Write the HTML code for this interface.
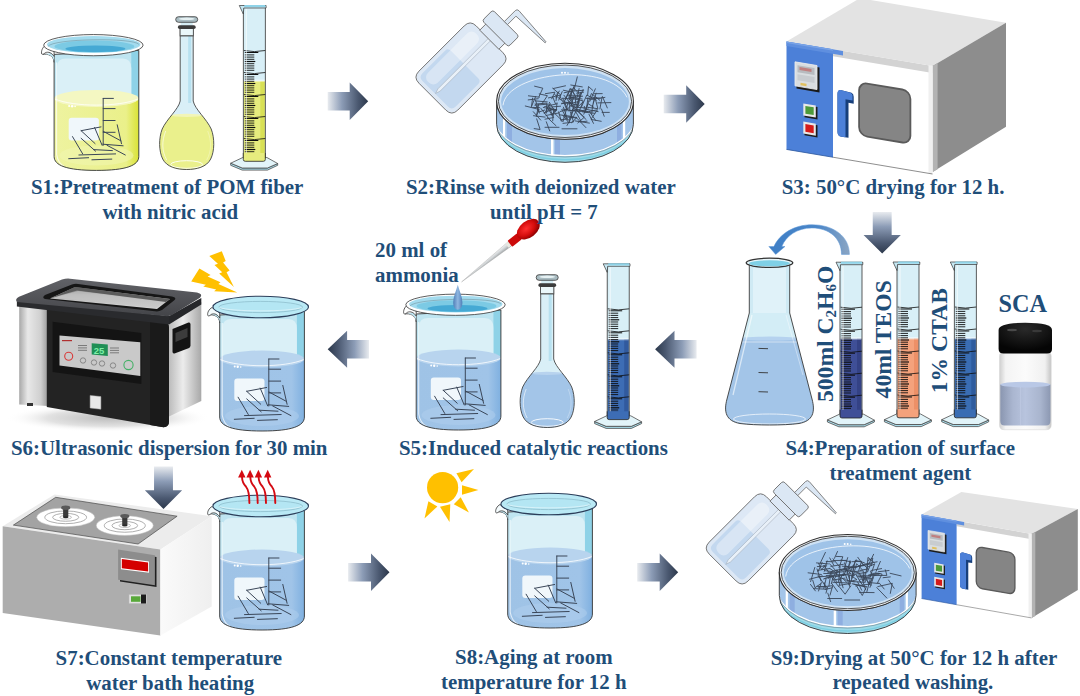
<!DOCTYPE html>
<html><head><meta charset="utf-8"><style>
html,body{margin:0;padding:0;background:#fff;}
#c{position:relative;width:1080px;height:696px;overflow:hidden;background:#fff;font-family:"Liberation Serif",serif;}
</style></head><body><div id="c"><svg width="1080" height="696" viewBox="0 0 1080 696" style="position:absolute;left:0;top:0">
<defs>
 <linearGradient id="arrR" x1="0" y1="0" x2="1" y2="0">
  <stop offset="0" stop-color="#e8ebef"/><stop offset="0.35" stop-color="#8c9cb6"/><stop offset="0.75" stop-color="#4a5870"/><stop offset="1" stop-color="#2c384b"/>
 </linearGradient>
 <linearGradient id="arrL" x1="1" y1="0" x2="0" y2="0">
  <stop offset="0" stop-color="#e8ebef"/><stop offset="0.35" stop-color="#8c9cb6"/><stop offset="0.75" stop-color="#4a5870"/><stop offset="1" stop-color="#2c384b"/>
 </linearGradient>
 <linearGradient id="arrD" x1="0" y1="0" x2="0" y2="1">
  <stop offset="0" stop-color="#e8ebef"/><stop offset="0.35" stop-color="#8c9cb6"/><stop offset="0.75" stop-color="#4a5870"/><stop offset="1" stop-color="#2c384b"/>
 </linearGradient>
 <linearGradient id="glassH" x1="0" y1="0" x2="1" y2="0">
  <stop offset="0" stop-color="#b9e2ef"/><stop offset="0.1" stop-color="#d9f0f7"/><stop offset="0.85" stop-color="#d3eef6"/><stop offset="1" stop-color="#8fd0e6"/>
 </linearGradient>
 <linearGradient id="liqBlue" x1="0" y1="0" x2="1" y2="0">
  <stop offset="0" stop-color="#9fc3e6"/><stop offset="0.85" stop-color="#a0c4e8"/><stop offset="1" stop-color="#7fb0e0"/>
 </linearGradient>
 <linearGradient id="liqYel" x1="0" y1="0" x2="1" y2="0">
  <stop offset="0" stop-color="#eef3a0"/><stop offset="0.85" stop-color="#eaf08a"/><stop offset="1" stop-color="#d9e234"/>
 </linearGradient>
 <radialGradient id="rimIn" cx="0.5" cy="0.6" r="0.6">
  <stop offset="0" stop-color="#3fa7d3"/><stop offset="0.5" stop-color="#74c7e2"/><stop offset="1" stop-color="#a9dff0"/>
 </radialGradient>
</defs>
<path d="M327.7,92.05 L349.7,92.05 L349.7,82.55 L368.2,101.3 L349.7,120.05 L349.7,110.55 L327.7,110.55 Z" fill="url(#arrR)"/><path d="M663.7,94.65 L686.2,94.65 L686.2,85.15 L704.7,103.9 L686.2,122.65 L686.2,113.15 L663.7,113.15 Z" fill="url(#arrR)"/><path d="M872.75,212.1 L872.75,234.9 L863.5500000000001,234.9 L882.2,253.6 L900.85,234.9 L891.6500000000001,234.9 L891.6500000000001,212.1 Z" fill="url(#arrD)"/><path d="M696.6,340.0 L674.5,340.0 L674.5,330.8 L655.1,349.3 L674.5,367.8 L674.5,358.6 L696.6,358.6 Z" fill="url(#arrL)"/><path d="M369.0,340.0 L347.09999999999997,340.0 L347.09999999999997,330.8 L327.7,349.3 L347.09999999999997,367.8 L347.09999999999997,358.6 L369.0,358.6 Z" fill="url(#arrL)"/><path d="M154.05,466.6 L154.05,490.20000000000005 L144.85,490.20000000000005 L163.5,508.90000000000003 L182.15,490.20000000000005 L172.95,490.20000000000005 L172.95,466.6 Z" fill="url(#arrD)"/><path d="M348.1,562.95 L371.0,562.95 L371.0,553.45 L389.5,572.2 L371.0,590.95 L371.0,581.45 L348.1,581.45 Z" fill="url(#arrR)"/><path d="M637.2,562.95 L659.7,562.95 L659.7,553.45 L678.2,572.2 L659.7,590.95 L659.7,581.45 L637.2,581.45 Z" fill="url(#arrR)"/><g transform="translate(41.4,34.4) scale(1.0)"><path d="M12.7,20 L12.7,122 C12.7,131 25.050000000000004,136 55.050000000000004,136 C85.05000000000001,136 97.4,131 97.4,122 L97.4,16 Z" fill="#bfe5f1"/><rect x="89.9" y="16" width="7.5" height="50" fill="#8ed2e7"/><path d="M15.7,64 L15.7,32 Q15.7,24 24.7,24 L81.4,24 Q89.9,24 89.9,34 L89.9,64 Z" fill="#daf0f7"/><path d="M12.7,64 L12.7,122 C12.7,131 25.050000000000004,136 55.050000000000004,136 C85.05000000000001,136 97.4,131 97.4,122 L97.4,64 Z" fill="url(#liqYel)"/><ellipse cx="55.050000000000004" cy="64" rx="42.35" ry="8.5" fill="#f4f7c2"/><path d="M13.2,64.5 C32.7,72.8 77.4,72.8 96.9,64.5" stroke="#ffffff" stroke-width="0.9" fill="none" opacity="0.85"/><ellipse cx="55.050000000000004" cy="121" rx="37" ry="10" fill="#f1f5b0" opacity="0.55"/><circle cx="27.7" cy="71.5" r="1" fill="#fff"/><circle cx="30.7" cy="71.8" r="1.2" fill="#fff"/><circle cx="33.7" cy="72" r="0.8" fill="#fff"/><rect x="27.3" y="83.4" width="30.2" height="22.6" rx="3" fill="#f0f7fb"/><g stroke="#3a4658" stroke-width="1" stroke-linecap="round"><line x1="61.8" y1="64" x2="61.8" y2="110.9"/><line x1="61.8" y1="64" x2="72" y2="64"/><line x1="61.8" y1="74.2" x2="73.7" y2="74.2"/><line x1="61.8" y1="86.1" x2="73.7" y2="86.1"/><line x1="61.8" y1="97.9" x2="73.7" y2="97.9"/><line x1="39.7" y1="96.3" x2="59.6" y2="92.5"/><line x1="39.7" y1="96.3" x2="53.7" y2="109.2"/><line x1="53.2" y1="93.1" x2="60.7" y2="110.9"/><line x1="31.1" y1="102.2" x2="41.3" y2="119.5"/><line x1="39.7" y1="103.9" x2="54.2" y2="116.8"/><line x1="52.1" y1="115.2" x2="71" y2="116.2"/><line x1="61.8" y1="96.9" x2="79.6" y2="106.5"/><line x1="75.8" y1="90.4" x2="80.1" y2="109.3"/><line x1="61.3" y1="109.8" x2="81.7" y2="111.4"/><line x1="65.6" y1="110.9" x2="83.9" y2="120.6"/><line x1="37.5" y1="120.6" x2="74.2" y2="119.5"/><line x1="27.3" y1="124.3" x2="47.2" y2="123.3"/><line x1="50.5" y1="125.4" x2="70.4" y2="124.7"/></g><path d="M15.2,28 L15.2,120 Q16.7,129 22.7,132" stroke="#ffffff" stroke-width="1.1" fill="none" opacity="0.7"/><path d="M12.7,20 L12.7,122 C12.7,131 25.050000000000004,136 55.050000000000004,136 C85.05000000000001,136 97.4,131 97.4,122 L97.4,16 Z" fill="none" stroke="#3d3d3d" stroke-width="0.95"/><path d="M1.5,20 C6,19 12.7,21 12.7,28" fill="none" stroke="#3d3d3d" stroke-width="0.95"/><path d="M1.5,20 C6,19 12.7,21 12.7,28 L12.7,18 Z" fill="#bfe5f1"/><path d="M4,11 C1,13 -0.5,17 0.3,19.5 C1,20.5 2.5,19.5 4,18.3 C7,17 10.5,18.5 12.7,22 L12.7,17 Z" fill="#ffffff" stroke="#3d3d3d" stroke-width="0.85" stroke-linejoin="round"/><ellipse cx="52" cy="10.75" rx="49.7" ry="10.6" fill="#ffffff" stroke="#333" stroke-width="0.8"/><ellipse cx="52.3" cy="10.1" rx="46.8" ry="8.4" fill="#a3dbee"/><ellipse cx="53" cy="12" rx="40" ry="5.8" fill="#7ccae4"/><ellipse cx="54" cy="14.4" rx="30" ry="3.3" fill="#45a9d4"/><path d="M6.5,12 C12,4 92,3 97.5,10" fill="none" stroke="#333" stroke-width="0.5" opacity="0.5"/></g><g transform="translate(186.7,17)"><path d="M-6.5,11 L-6.5,84 C-8,92 -20,102 -24.5,112 C-28,121 -28,134 -24,142 C-20,150 -10,152.5 0,152.5 C10,152.5 20,150 24,142 C28,134 28,121 24.5,112 C20,102 8,92 6.5,84 L6.5,11 Z" fill="#d9eff7"/><clipPath id="fc186"><path d="M-6.5,11 L-6.5,84 C-8,92 -20,102 -24.5,112 C-28,121 -28,134 -24,142 C-20,150 -10,152.5 0,152.5 C10,152.5 20,150 24,142 C28,134 28,121 24.5,112 C20,102 8,92 6.5,84 L6.5,11 Z"/></clipPath><g clip-path="url(#fc186)"><rect x="-30" y="98" width="60" height="60" fill="#eaf08c"/><ellipse cx="0" cy="98.3" rx="15.5" ry="1.6" fill="#f2f5b8"/><ellipse cx="0" cy="147.5" rx="16" ry="3.8" fill="none" stroke="#ffffff" stroke-width="1" opacity="0.85"/><rect x="1.5" y="14" width="3" height="72" fill="#a9dbec" opacity="0.7"/></g><path d="M-21,114 C-25,124 -25,134 -20,143" stroke="#ffffff" stroke-width="1" fill="none" opacity="0.6"/><path d="M21,114 C25,124 25,134 20,143" stroke="#ffffff" stroke-width="0.7" fill="none" opacity="0.4"/><path d="M-6.5,11 L-6.5,84 C-8,92 -20,102 -24.5,112 C-28,121 -28,134 -24,142 C-20,150 -10,152.5 0,152.5 C10,152.5 20,150 24,142 C28,134 28,121 24.5,112 C20,102 8,92 6.5,84 L6.5,11 Z" fill="none" stroke="#444" stroke-width="0.9"/><rect x="-6.6" y="11" width="13.2" height="8" fill="#eaf7fa" stroke="#444" stroke-width="0.8"/><line x1="-6.6" y1="18.5" x2="6.6" y2="18.5" stroke="#555" stroke-width="0.7"/><rect x="-6" y="4.5" width="12" height="4.5" fill="#d5edf4"/><rect x="-8.8" y="8.2" width="17.8" height="3.8" rx="1.8" fill="#3c3c3c"/><rect x="-11" y="-0.3" width="22" height="5.6" rx="2.8" fill="#a9bcc2" stroke="#3a3a3a" stroke-width="0.8"/><ellipse cx="0" cy="1.8" rx="8" ry="1.3" fill="#e6f1f3"/></g><g transform="translate(243.3,5)"><rect x="0" y="1" width="22" height="154" fill="#d8eff7"/><rect x="0.5" y="76" width="21" height="79" fill="#e6ec7e"/><rect x="17" y="76" width="4.5" height="79" fill="#cfd83a" opacity="0.6"/><rect x="0.5" y="74.5" width="21" height="2.5" fill="#ffffff" opacity="0.45"/><g stroke="#0e0e0e" stroke-width="0.9"><path d="M0.5,45.50 Q11.0,47.70 22,45.50" fill="none" stroke-width="0.8"/><line x1="1.5" y1="47.50" x2="15" y2="47.50" stroke-width="1"/><line x1="1.5" y1="49.90" x2="11" y2="49.90"/><line x1="1.5" y1="52.10" x2="11" y2="52.10"/><line x1="1.5" y1="54.30" x2="11" y2="54.30"/><line x1="1.5" y1="56.50" x2="12" y2="56.50" stroke-width="1.2"/><line x1="1.5" y1="58.70" x2="11" y2="58.70"/><line x1="1.5" y1="60.90" x2="11" y2="60.90"/><line x1="1.5" y1="63.10" x2="11" y2="63.10"/><line x1="1.5" y1="65.30" x2="11" y2="65.30"/><path d="M0.5,67.50 Q11.0,69.70 22,67.50" fill="none" stroke-width="0.8"/><line x1="1.5" y1="69.50" x2="15" y2="69.50" stroke-width="1"/><line x1="1.5" y1="71.90" x2="11" y2="71.90"/><line x1="1.5" y1="74.10" x2="11" y2="74.10"/><line x1="1.5" y1="76.30" x2="11" y2="76.30"/><line x1="1.5" y1="78.50" x2="12" y2="78.50" stroke-width="1.2"/><line x1="1.5" y1="80.70" x2="11" y2="80.70"/><line x1="1.5" y1="82.90" x2="11" y2="82.90"/><line x1="1.5" y1="85.10" x2="11" y2="85.10"/><line x1="1.5" y1="87.30" x2="11" y2="87.30"/><path d="M0.5,89.50 Q11.0,91.70 22,89.50" fill="none" stroke-width="0.8"/><line x1="1.5" y1="91.50" x2="15" y2="91.50" stroke-width="1"/><line x1="1.5" y1="93.90" x2="11" y2="93.90"/><line x1="1.5" y1="96.10" x2="11" y2="96.10"/><line x1="1.5" y1="98.30" x2="11" y2="98.30"/><line x1="1.5" y1="100.50" x2="12" y2="100.50" stroke-width="1.2"/><line x1="1.5" y1="102.70" x2="11" y2="102.70"/><line x1="1.5" y1="104.90" x2="11" y2="104.90"/><line x1="1.5" y1="107.10" x2="11" y2="107.10"/><line x1="1.5" y1="109.30" x2="11" y2="109.30"/><path d="M0.5,111.50 Q11.0,113.70 22,111.50" fill="none" stroke-width="0.8"/><line x1="1.5" y1="113.50" x2="15" y2="113.50" stroke-width="1"/><line x1="1.5" y1="115.90" x2="11" y2="115.90"/><line x1="1.5" y1="118.10" x2="11" y2="118.10"/><line x1="1.5" y1="120.30" x2="11" y2="120.30"/><line x1="1.5" y1="122.50" x2="12" y2="122.50" stroke-width="1.2"/><line x1="1.5" y1="124.70" x2="11" y2="124.70"/><line x1="1.5" y1="126.90" x2="11" y2="126.90"/><line x1="1.5" y1="129.10" x2="11" y2="129.10"/><line x1="1.5" y1="131.30" x2="11" y2="131.30"/><path d="M0.5,133.50 Q11.0,135.70 22,133.50" fill="none" stroke-width="0.8"/><line x1="1.5" y1="135.50" x2="15" y2="135.50" stroke-width="1"/><line x1="1.5" y1="137.90" x2="11" y2="137.90"/><line x1="1.5" y1="140.10" x2="11" y2="140.10"/><line x1="1.5" y1="142.30" x2="11" y2="142.30"/><line x1="1.5" y1="144.50" x2="12" y2="144.50" stroke-width="1.2"/><line x1="1.5" y1="146.70" x2="11" y2="146.70"/><line x1="1.5" y1="148.90" x2="11" y2="148.90"/><line x1="1.5" y1="151.10" x2="11" y2="151.10"/><line x1="1.5" y1="153.30" x2="11" y2="153.30"/></g><line x1="3" y1="4" x2="3" y2="152" stroke="#ffffff" stroke-width="1" opacity="0.7"/><rect x="0" y="1" width="22" height="154" fill="none" stroke="#333" stroke-width="0.8"/><path d="M-4,0.5 L22.8,0.5 L22.8,3 L0.5,3 L0,9 Z" fill="#c6e8f3" stroke="#333" stroke-width="0.7"/><rect x="1" y="0" width="21" height="2" fill="#8fd3e8"/><path d="M-12.6,158.2 L-12.6,160.3 L-1.1,165.1 L24.2,165.1 L34.4,160.3 L34.4,158.5 L24.2,163 L-1.1,163 Z" fill="#a9dcea" stroke="#444" stroke-width="0.75" stroke-linejoin="round"/><path d="M-12.6,158.2 L-0.5,152.5 L23.6,152.5 L34.4,158.5 L24.2,163 L-1.1,163 Z" fill="#e2f4f9" stroke="#444" stroke-width="0.75" stroke-linejoin="round"/><path d="M0,148 L0,154.5 Q0,156.3 2,156.3 L20,156.3 Q22,156.3 22,154.5 L22,148" fill="#e6ec7e" stroke="#222" stroke-width="0.8"/></g><g transform="translate(461,68) rotate(45)"><path d="M-27.5,-32 Q-27.5,-40.5 -19,-40.5 L19,-40.5 Q27.5,-40.5 27.5,-32 L27.5,32 Q27.5,40.5 19,40.5 L-19,40.5 Q-27.5,40.5 -27.5,32 Z" fill="#dde8f5"/><path d="M-23.5,-1 Q-23.5,-5 -19,-5 L19,-5 Q23.5,-5 23.5,-1 L23.5,31 Q23.5,36.5 18,36.5 L-18,36.5 Q-23.5,36.5 -23.5,31 Z" fill="#c3d8ef"/><rect x="-20" y="-35" width="14" height="68" rx="6" fill="#ffffff" opacity="0.35"/><path d="M-27.5,-32 Q-27.5,-40.5 -19,-40.5 L19,-40.5 Q27.5,-40.5 27.5,-32 L27.5,32 Q27.5,40.5 19,40.5 L-19,40.5 Q-27.5,40.5 -27.5,32 Z" fill="none" stroke="#6f6f6f" stroke-width="0.9"/><path d="M-1.6,-48 L1.6,-48 L1.6,31 L0,36 L-1.6,31 Z" fill="#e8f0f8" stroke="#9aa6b2" stroke-width="0.5"/><rect x="-13.5" y="-49" width="27" height="9" fill="#dde8f5" stroke="#6f6f6f" stroke-width="0.9"/><rect x="-18.5" y="-63.5" width="37" height="15" rx="2.5" fill="#dbe7f4" stroke="#6f6f6f" stroke-width="0.9"/><path d="M-2.2,-63.5 L-2.2,-79 Q-2.2,-81.5 0.5,-81.5 L41.5,-78.6 L41.7,-77.3 L2.2,-75.5 L2.2,-63.5 Z" fill="#dbe7f4" stroke="#6f6f6f" stroke-width="0.8" stroke-linejoin="round"/></g><g><clipPath id="pc565"><path d="M496.6,101.3 A68.4,38 0 0 0 633.4,101.3 L633.4,124.3 A68.4,38 0 0 1 496.6,124.3 Z"/></clipPath><path d="M496.6,101.3 A68.4,38 0 0 0 633.4,101.3 L633.4,124.3 A68.4,38 0 0 1 496.6,124.3 Z" fill="#a3c5e9"/><g clip-path="url(#pc565)"><rect x="503" y="101.3" width="2.2" height="63" fill="#ffffff"/><rect x="507" y="101.3" width="5" height="63" fill="#8eaee0"/><rect x="551" y="101.3" width="2.5" height="63" fill="#ffffff"/><rect x="555" y="101.3" width="5" height="63" fill="#8eaee0"/><rect x="617" y="101.3" width="4.5" height="63" fill="#8eaee0"/><rect x="623" y="101.3" width="2.2" height="63" fill="#ffffff"/><path d="M494.6,118.3 A70.4,38 0 0 0 635.4,118.3 L635.4,179.3 L494.6,179.3 Z" fill="#9fdbe9"/><path d="M494.6,117.6 A70.4,38 0 0 0 635.4,117.6" fill="none" stroke="#ffffff" stroke-width="1.3"/><path d="M494.6,118.9 A70.4,38 0 0 0 635.4,118.9" fill="none" stroke="#6a7f8a" stroke-width="0.6"/><path d="M494.6,121.8 A70.4,38 0 0 0 635.4,121.8" fill="none" stroke="#7dcfe2" stroke-width="1.5"/></g><path d="M496.6,101.3 A68.4,38 0 0 0 633.4,101.3 L633.4,124.3 A68.4,38 0 0 1 496.6,124.3 Z" fill="none" stroke="#333" stroke-width="0.9"/><ellipse cx="565" cy="101.3" rx="68.4" ry="38" fill="#f5f8fb" stroke="#2e2e2e" stroke-width="1.1"/><ellipse cx="565" cy="101.3" rx="66.60000000000001" ry="36.2" fill="#cfe2f4" stroke="#444" stroke-width="0.9"/><ellipse cx="565" cy="101.6" rx="63.900000000000006" ry="33.5" fill="#9fc3e8"/><path d="M503,105.3 C507,71.3 610,61.3 627,97.3" fill="none" stroke="#ffffff" stroke-width="0.9" opacity="0.85"/><circle cx="562" cy="72.8" r="1" fill="#fff"/><circle cx="565" cy="72.8" r="1" fill="#fff"/><circle cx="568" cy="73.0" r="0.8" fill="#fff"/><g stroke="#3a4658" stroke-width="0.9" stroke-linecap="round" stroke-linejoin="round" fill="none"><polyline points="565.1,116.8 577.1,117.4 571.4,122.8"/><polyline points="549.4,102.3 555.3,112.0"/><polyline points="573.3,98.7 583.2,100.9 579.3,110.9"/><polyline points="599.9,108.9 602.0,97.4"/><polyline points="533.5,115.7 545.1,117.1"/><polyline points="577.0,111.4 586.0,111.4"/><polyline points="570.8,85.0 582.3,86.9"/><polyline points="549.6,108.3 556.7,109.8 551.7,114.7"/><polyline points="535.3,100.9 547.3,101.9"/><polyline points="561.8,109.4 566.9,119.0 561.0,119.8"/><polyline points="552.7,120.8 553.8,108.9 544.0,112.8"/><polyline points="560.1,111.5 567.7,109.6"/><polyline points="558.6,111.9 561.3,121.2"/><polyline points="591.2,119.5 601.2,121.3"/><polyline points="558.7,100.1 562.2,91.6"/><polyline points="547.3,107.3 560.6,106.2"/><polyline points="554.5,113.2 563.1,121.7 564.6,114.7"/><polyline points="553.4,88.5 565.5,85.8"/><polyline points="562.8,115.3 569.1,123.1 570.3,116.6"/><polyline points="565.4,99.7 570.9,88.5 574.4,94.2"/><polyline points="547.4,117.6 556.0,125.7"/><polyline points="555.9,97.9 559.2,91.1"/><polyline points="568.7,117.0 575.9,118.0"/><polyline points="546.3,121.8 549.7,130.9"/><polyline points="589.3,111.4 595.7,120.5"/><polyline points="532.6,107.4 539.8,107.7"/><polyline points="570.8,115.1 574.3,104.6"/><polyline points="597.8,102.9 610.9,102.6"/><polyline points="589.8,101.4 595.4,88.8"/><polyline points="575.0,109.4 586.0,111.1 584.3,106.3"/><polyline points="562.6,98.2 573.8,99.1"/><polyline points="591.1,99.2 604.9,97.4"/><polyline points="567.1,95.2 580.7,95.4 574.0,88.2"/><polyline points="564.2,103.2 566.8,110.1 572.0,103.9"/><polyline points="581.4,107.1 586.8,95.0 596.3,100.2"/><polyline points="568.7,100.9 574.7,108.3"/><polyline points="545.4,93.7 554.9,92.2 551.7,98.8"/><polyline points="575.1,107.3 588.3,108.0"/><polyline points="572.7,91.0 583.7,90.3"/><polyline points="533.3,111.7 540.7,120.1"/><polyline points="583.8,108.9 598.1,111.6"/><polyline points="594.2,93.7 602.2,93.6"/><polyline points="571.6,90.0 575.6,96.7"/><polyline points="575.2,104.5 575.9,96.8 570.8,97.2"/><polyline points="569.1,100.0 573.7,87.1"/><polyline points="528.4,95.8 539.4,97.2"/><polyline points="591.7,114.6 592.6,105.1"/><polyline points="570.7,97.7 582.6,96.2"/><polyline points="546.5,110.2 556.8,109.5 551.8,115.0"/><polyline points="562.8,98.4 567.8,109.7"/><polyline points="531.6,105.8 532.6,98.1"/><polyline points="586.0,98.3 594.4,99.2 592.4,107.0"/><polyline points="602.4,96.5 607.3,107.9"/><polyline points="538.9,96.8 542.8,88.2 534.6,86.2"/><polyline points="564.8,115.8 567.7,103.5"/><polyline points="571.0,117.0 573.3,110.1"/><polyline points="587.6,95.2 588.5,86.5 592.8,90.4"/><polyline points="539.2,93.9 547.4,95.7 542.2,103.5"/><polyline points="571.3,106.6 573.2,96.9"/><polyline points="561.8,103.3 572.7,102.9 569.7,95.2"/><polyline points="575.9,109.8 586.1,119.5"/><polyline points="536.4,116.5 538.7,104.3"/><polyline points="569.0,96.9 574.4,85.8"/><polyline points="582.4,111.9 594.8,113.3"/><polyline points="576.1,117.4 585.9,127.6"/><polyline points="575.5,111.3 581.1,121.2"/><polyline points="544.6,106.6 557.1,103.8"/><polyline points="528.2,99.9 538.2,98.7"/><polyline points="588.2,107.4 597.9,108.7 595.4,99.2"/><polyline points="586.4,109.2 588.0,97.6"/><polyline points="589.0,114.3 593.5,123.4"/><polyline points="583.8,114.2 588.1,103.7 593.6,107.2"/><polyline points="564.1,101.9 570.1,88.6"/><polyline points="535.5,100.0 539.0,112.0 544.8,110.0"/><polyline points="556.0,100.7 557.4,92.5"/><polyline points="575.1,120.9 589.4,123.1"/><polyline points="576.7,109.6 584.3,117.2 577.8,123.0"/><polyline points="537.2,103.9 546.8,103.1 546.6,113.1"/><polyline points="563.9,101.7 578.4,105.4 572.2,109.7"/><polyline points="564.1,92.8 571.5,91.1 570.6,98.9"/><polyline points="602.1,112.4 609.3,112.4"/><polyline points="554.5,94.3 561.3,100.3"/><polyline points="543.3,107.4 556.3,110.5 557.0,102.8"/><polyline points="568.1,110.8 576.4,110.4 573.0,117.2"/><polyline points="579.8,121.9 587.1,121.2"/><polyline points="563.4,107.1 567.9,120.4 572.4,116.4"/><polyline points="548.4,97.9 560.9,95.0 552.6,88.2"/><polyline points="534.8,105.2 549.7,104.0 544.6,113.5"/><polyline points="561.4,103.8 569.6,102.1 569.8,110.2"/><polyline points="563.9,95.2 571.5,104.9"/><polyline points="563.3,90.2 571.6,92.0"/><polyline points="535.3,103.7 539.4,113.1"/><polyline points="577.3,96.9 579.1,88.6"/><polyline points="540.9,108.4 549.3,119.1"/><polyline points="576.0,105.9 579.0,98.8"/><polyline points="552.7,96.9 555.5,103.8"/><polyline points="586.5,107.6 591.4,93.5 599.7,100.2"/><polyline points="585.6,112.3 597.5,109.7 591.5,118.5"/><polyline points="576.8,109.6 587.8,111.6"/><polyline points="579.1,99.5 583.1,89.5"/><polyline points="601.5,109.0 604.2,116.3"/><polyline points="562.7,109.1 574.9,111.1 570.3,102.0"/><polyline points="546.0,115.5 559.5,112.8"/><polyline points="568.9,98.1 576.1,108.7 582.9,102.0"/><polyline points="592.7,97.3 600.2,98.4"/><polyline points="563.0,123.4 573.5,122.0 570.4,111.9"/><polyline points="593.2,103.1 596.1,93.2"/><polyline points="525.3,106.0 539.2,109.5 536.9,114.6"/><polyline points="559.8,96.1 563.3,102.5"/><polyline points="559.2,114.8 572.1,116.4 567.0,125.5"/><polyline points="549.0,106.6 552.5,115.2"/><polyline points="573.8,91.0 577.3,76.9"/><polyline points="578.6,104.2 580.0,97.1"/><polyline points="536.7,118.9 540.1,129.5 534.2,128.6"/><polyline points="577.1,106.4 580.9,92.1"/><polyline points="568.8,104.0 579.0,101.4 576.4,110.9"/><polyline points="546.7,106.7 553.6,117.5 545.0,119.2"/><polyline points="569.0,97.3 582.2,99.0"/><polyline points="576.6,93.2 583.6,92.1"/><polyline points="531.1,107.3 535.7,96.4"/><line x1="545" y1="127.3" x2="559" y2="127.3"/><line x1="562" y1="128.8" x2="577" y2="128.8"/></g></g><g><polygon points="786.5,41.4 859.9,-1.8 1006.0,22.8 932.6,66.0" fill="#e3e3e3"/><polygon points="932.6,66.0 1006.0,22.8 1006.0,126.7 932.6,172.0" fill="#8d8d8d"/><polygon points="932.6,66.0 937.6,63.1 937.6,169.2 932.6,172.0" fill="#b3b3b3"/><g transform="translate(786.5,41.4) skewY(9.56) scale(1.0,1.0)"><rect x="0" y="0" width="146" height="108" fill="#ffffff"/><rect x="-4" y="0" width="4" height="108" fill="#ffffff"/><rect x="46.5" y="0" width="99.5" height="7" fill="#d3d3d3"/><rect x="142" y="0" width="4" height="108" fill="#f0f0f0"/><line x1="46.5" y1="108" x2="146" y2="108" stroke="#777" stroke-width="0.8"/><rect x="0" y="0" width="46.5" height="108" fill="#4c80d8"/><rect x="0" y="0" width="56.5" height="4.5" fill="#5f8fdf"/><rect x="0" y="0" width="46.5" height="1.5" fill="#7aa3e6"/><line x1="0" y1="108" x2="46.5" y2="108" stroke="#2f5aa0" stroke-width="0.8"/><rect x="10" y="20.5" width="23" height="25" fill="#1a1a1a"/><rect x="8.5" y="19" width="22" height="24" fill="#d9dde0" stroke="#eee" stroke-width="0.8"/><rect x="11" y="22" width="17" height="7" fill="#b8bcc0"/><rect x="13" y="23.5" width="12" height="3" fill="#c08080"/><rect x="11" y="31" width="17" height="6" fill="#c8ccd0"/><rect x="14" y="39" width="6" height="2.5" fill="#e0c060"/><rect x="18" y="60.5" width="13" height="12.3" fill="#1c1c1c"/><rect x="16.8" y="59.2" width="12.5" height="12" fill="#e8e8e8"/><rect x="18.9" y="61.300000000000004" width="8.3" height="7.8" fill="#4c9a3a"/><rect x="18" y="78.6" width="13" height="12.3" fill="#1c1c1c"/><rect x="16.8" y="77.3" width="12.5" height="12" fill="#e8e8e8"/><rect x="18.9" y="79.39999999999999" width="8.3" height="7.8" fill="#d41a1a"/><path d="M51,44 Q51,39.5 55,39.5 L65,40.5 Q67.2,41 67.2,44 L67.2,51 L62,51 L62,86 L55,86 Q51,86 51,82 Z" fill="#173f7a"/><path d="M51,43.5 Q51,39.5 55,39.5 L64,40.5 Q66,41 66,43 L66,48 L59,48 L59,86 L55,86 Q51,86 51,82 Z" fill="#4c80d8"/><rect x="72.6" y="28.6" width="51.3" height="53" rx="8" fill="#858585" stroke="#5a5a5a" stroke-width="1.8"/></g></g><g><path d="M749.3,264 L749.3,313 L727,399 C723.5,412 726,421 740,423.5 C755,425.5 784,425.5 799,423.5 C813,421 815.5,412 812,399 L789.7,313 L789.7,264 Z" fill="#cfeaf4"/><clipPath id="erlc"><path d="M749.3,264 L749.3,313 L727,399 C723.5,412 726,421 740,423.5 C755,425.5 784,425.5 799,423.5 C813,421 815.5,412 812,399 L789.7,313 L789.7,264 Z"/></clipPath><g clip-path="url(#erlc)"><rect x="753" y="268" width="33" height="45" fill="#e0f2f9"/><rect x="740" y="313" width="60" height="28" fill="#d3edf6"/><path d="M700,338.6 L840,338.6 L840,430 L700,430 Z" fill="#a3c5e8"/><ellipse cx="769.5" cy="338.6" rx="30" ry="2" fill="#b5d2ef"/><path d="M738,342 L800,342" stroke="#ffffff" stroke-width="0.7" opacity="0.7"/><ellipse cx="769.5" cy="419" rx="36" ry="5" fill="none" stroke="#ffffff" stroke-width="1" opacity="0.7"/><path d="M752,315 L733,395" stroke="#ffffff" stroke-width="1.3" opacity="0.6"/><path d="M786,315 L803,375" stroke="#ffffff" stroke-width="0.8" opacity="0.5"/></g><line x1="758.5" y1="348.4" x2="768" y2="348.7" stroke="#333" stroke-width="0.9"/><line x1="758.5" y1="372.5" x2="768" y2="372.8" stroke="#333" stroke-width="0.9"/><line x1="758.5" y1="391.7" x2="768" y2="392.0" stroke="#333" stroke-width="0.9"/><path d="M749.3,264 L749.3,313 L727,399 C723.5,412 726,421 740,423.5 C755,425.5 784,425.5 799,423.5 C813,421 815.5,412 812,399 L789.7,313 L789.7,264 Z" fill="none" stroke="#3a3a3a" stroke-width="0.9"/><ellipse cx="769.5" cy="262.8" rx="23.3" ry="4.6" fill="#e8f7fb" stroke="#333" stroke-width="1.3"/><ellipse cx="769.5" cy="263.3" rx="20.5" ry="3" fill="#7fd0e6"/></g><defs><linearGradient id="carr" x1="0" y1="0" x2="1" y2="0"><stop offset="0" stop-color="#3f7fc6"/><stop offset="0.6" stop-color="#4a86c8"/><stop offset="1" stop-color="#8aa5c3"/></linearGradient></defs><path d="M841.5,254.4 L849.4,254.4 C849.4,236 833,224.7 811.9,224.7 C795,224.7 780,233 773.9,246.5 L768.8,246.5 L775.7,254.4 L785,246.5 L781.8,246.5 C786,236 797,228 811.9,228 C829,228 841.5,238 841.5,254.4 Z" fill="url(#carr)" stroke="#5d97d6" stroke-width="0.5"/><g transform="translate(840,261.7)"><rect x="0" y="1" width="22" height="154" fill="#d8eff7"/><rect x="0.5" y="77" width="21" height="78" fill="#3f4f97"/><rect x="17" y="77" width="4.5" height="78" fill="#2d3a7a" opacity="0.6"/><rect x="0.5" y="75.5" width="21" height="2.5" fill="#ffffff" opacity="0.45"/><g stroke="#0e0e0e" stroke-width="0.9"><path d="M0.5,45.50 Q11.0,47.70 22,45.50" fill="none" stroke-width="0.8"/><line x1="1.5" y1="47.50" x2="15" y2="47.50" stroke-width="1"/><line x1="1.5" y1="49.90" x2="11" y2="49.90"/><line x1="1.5" y1="52.10" x2="11" y2="52.10"/><line x1="1.5" y1="54.30" x2="11" y2="54.30"/><line x1="1.5" y1="56.50" x2="12" y2="56.50" stroke-width="1.2"/><line x1="1.5" y1="58.70" x2="11" y2="58.70"/><line x1="1.5" y1="60.90" x2="11" y2="60.90"/><line x1="1.5" y1="63.10" x2="11" y2="63.10"/><line x1="1.5" y1="65.30" x2="11" y2="65.30"/><path d="M0.5,67.50 Q11.0,69.70 22,67.50" fill="none" stroke-width="0.8"/><line x1="1.5" y1="69.50" x2="15" y2="69.50" stroke-width="1"/><line x1="1.5" y1="71.90" x2="11" y2="71.90"/><line x1="1.5" y1="74.10" x2="11" y2="74.10"/><line x1="1.5" y1="76.30" x2="11" y2="76.30"/><line x1="1.5" y1="78.50" x2="12" y2="78.50" stroke-width="1.2"/><line x1="1.5" y1="80.70" x2="11" y2="80.70"/><line x1="1.5" y1="82.90" x2="11" y2="82.90"/><line x1="1.5" y1="85.10" x2="11" y2="85.10"/><line x1="1.5" y1="87.30" x2="11" y2="87.30"/><path d="M0.5,89.50 Q11.0,91.70 22,89.50" fill="none" stroke-width="0.8"/><line x1="1.5" y1="91.50" x2="15" y2="91.50" stroke-width="1"/><line x1="1.5" y1="93.90" x2="11" y2="93.90"/><line x1="1.5" y1="96.10" x2="11" y2="96.10"/><line x1="1.5" y1="98.30" x2="11" y2="98.30"/><line x1="1.5" y1="100.50" x2="12" y2="100.50" stroke-width="1.2"/><line x1="1.5" y1="102.70" x2="11" y2="102.70"/><line x1="1.5" y1="104.90" x2="11" y2="104.90"/><line x1="1.5" y1="107.10" x2="11" y2="107.10"/><line x1="1.5" y1="109.30" x2="11" y2="109.30"/><path d="M0.5,111.50 Q11.0,113.70 22,111.50" fill="none" stroke-width="0.8"/><line x1="1.5" y1="113.50" x2="15" y2="113.50" stroke-width="1"/><line x1="1.5" y1="115.90" x2="11" y2="115.90"/><line x1="1.5" y1="118.10" x2="11" y2="118.10"/><line x1="1.5" y1="120.30" x2="11" y2="120.30"/><line x1="1.5" y1="122.50" x2="12" y2="122.50" stroke-width="1.2"/><line x1="1.5" y1="124.70" x2="11" y2="124.70"/><line x1="1.5" y1="126.90" x2="11" y2="126.90"/><line x1="1.5" y1="129.10" x2="11" y2="129.10"/><line x1="1.5" y1="131.30" x2="11" y2="131.30"/><path d="M0.5,133.50 Q11.0,135.70 22,133.50" fill="none" stroke-width="0.8"/><line x1="1.5" y1="135.50" x2="15" y2="135.50" stroke-width="1"/><line x1="1.5" y1="137.90" x2="11" y2="137.90"/><line x1="1.5" y1="140.10" x2="11" y2="140.10"/><line x1="1.5" y1="142.30" x2="11" y2="142.30"/><line x1="1.5" y1="144.50" x2="12" y2="144.50" stroke-width="1.2"/><line x1="1.5" y1="146.70" x2="11" y2="146.70"/><line x1="1.5" y1="148.90" x2="11" y2="148.90"/><line x1="1.5" y1="151.10" x2="11" y2="151.10"/><line x1="1.5" y1="153.30" x2="11" y2="153.30"/></g><line x1="3" y1="4" x2="3" y2="152" stroke="#ffffff" stroke-width="1" opacity="0.7"/><rect x="0" y="1" width="22" height="154" fill="none" stroke="#333" stroke-width="0.8"/><path d="M-4,0.5 L22.8,0.5 L22.8,3 L0.5,3 L0,9 Z" fill="#c6e8f3" stroke="#333" stroke-width="0.7"/><rect x="1" y="0" width="21" height="2" fill="#8fd3e8"/><path d="M-12.6,158.2 L-12.6,160.3 L-1.1,165.1 L24.2,165.1 L34.4,160.3 L34.4,158.5 L24.2,163 L-1.1,163 Z" fill="#a9dcea" stroke="#444" stroke-width="0.75" stroke-linejoin="round"/><path d="M-12.6,158.2 L-0.5,152.5 L23.6,152.5 L34.4,158.5 L24.2,163 L-1.1,163 Z" fill="#e2f4f9" stroke="#444" stroke-width="0.75" stroke-linejoin="round"/><path d="M0,148 L0,154.5 Q0,156.3 2,156.3 L20,156.3 Q22,156.3 22,154.5 L22,148" fill="#3f4f97" stroke="#222" stroke-width="0.8"/></g><g transform="translate(897,261.5)"><rect x="0" y="1" width="22" height="154" fill="#d8eff7"/><rect x="0.5" y="77" width="21" height="78" fill="#f4a27c"/><rect x="17" y="77" width="4.5" height="78" fill="#e8845a" opacity="0.6"/><rect x="0.5" y="75.5" width="21" height="2.5" fill="#ffffff" opacity="0.45"/><g stroke="#0e0e0e" stroke-width="0.9"><path d="M0.5,45.50 Q11.0,47.70 22,45.50" fill="none" stroke-width="0.8"/><line x1="1.5" y1="47.50" x2="15" y2="47.50" stroke-width="1"/><line x1="1.5" y1="49.90" x2="11" y2="49.90"/><line x1="1.5" y1="52.10" x2="11" y2="52.10"/><line x1="1.5" y1="54.30" x2="11" y2="54.30"/><line x1="1.5" y1="56.50" x2="12" y2="56.50" stroke-width="1.2"/><line x1="1.5" y1="58.70" x2="11" y2="58.70"/><line x1="1.5" y1="60.90" x2="11" y2="60.90"/><line x1="1.5" y1="63.10" x2="11" y2="63.10"/><line x1="1.5" y1="65.30" x2="11" y2="65.30"/><path d="M0.5,67.50 Q11.0,69.70 22,67.50" fill="none" stroke-width="0.8"/><line x1="1.5" y1="69.50" x2="15" y2="69.50" stroke-width="1"/><line x1="1.5" y1="71.90" x2="11" y2="71.90"/><line x1="1.5" y1="74.10" x2="11" y2="74.10"/><line x1="1.5" y1="76.30" x2="11" y2="76.30"/><line x1="1.5" y1="78.50" x2="12" y2="78.50" stroke-width="1.2"/><line x1="1.5" y1="80.70" x2="11" y2="80.70"/><line x1="1.5" y1="82.90" x2="11" y2="82.90"/><line x1="1.5" y1="85.10" x2="11" y2="85.10"/><line x1="1.5" y1="87.30" x2="11" y2="87.30"/><path d="M0.5,89.50 Q11.0,91.70 22,89.50" fill="none" stroke-width="0.8"/><line x1="1.5" y1="91.50" x2="15" y2="91.50" stroke-width="1"/><line x1="1.5" y1="93.90" x2="11" y2="93.90"/><line x1="1.5" y1="96.10" x2="11" y2="96.10"/><line x1="1.5" y1="98.30" x2="11" y2="98.30"/><line x1="1.5" y1="100.50" x2="12" y2="100.50" stroke-width="1.2"/><line x1="1.5" y1="102.70" x2="11" y2="102.70"/><line x1="1.5" y1="104.90" x2="11" y2="104.90"/><line x1="1.5" y1="107.10" x2="11" y2="107.10"/><line x1="1.5" y1="109.30" x2="11" y2="109.30"/><path d="M0.5,111.50 Q11.0,113.70 22,111.50" fill="none" stroke-width="0.8"/><line x1="1.5" y1="113.50" x2="15" y2="113.50" stroke-width="1"/><line x1="1.5" y1="115.90" x2="11" y2="115.90"/><line x1="1.5" y1="118.10" x2="11" y2="118.10"/><line x1="1.5" y1="120.30" x2="11" y2="120.30"/><line x1="1.5" y1="122.50" x2="12" y2="122.50" stroke-width="1.2"/><line x1="1.5" y1="124.70" x2="11" y2="124.70"/><line x1="1.5" y1="126.90" x2="11" y2="126.90"/><line x1="1.5" y1="129.10" x2="11" y2="129.10"/><line x1="1.5" y1="131.30" x2="11" y2="131.30"/><path d="M0.5,133.50 Q11.0,135.70 22,133.50" fill="none" stroke-width="0.8"/><line x1="1.5" y1="135.50" x2="15" y2="135.50" stroke-width="1"/><line x1="1.5" y1="137.90" x2="11" y2="137.90"/><line x1="1.5" y1="140.10" x2="11" y2="140.10"/><line x1="1.5" y1="142.30" x2="11" y2="142.30"/><line x1="1.5" y1="144.50" x2="12" y2="144.50" stroke-width="1.2"/><line x1="1.5" y1="146.70" x2="11" y2="146.70"/><line x1="1.5" y1="148.90" x2="11" y2="148.90"/><line x1="1.5" y1="151.10" x2="11" y2="151.10"/><line x1="1.5" y1="153.30" x2="11" y2="153.30"/></g><line x1="3" y1="4" x2="3" y2="152" stroke="#ffffff" stroke-width="1" opacity="0.7"/><rect x="0" y="1" width="22" height="154" fill="none" stroke="#333" stroke-width="0.8"/><path d="M-4,0.5 L22.8,0.5 L22.8,3 L0.5,3 L0,9 Z" fill="#c6e8f3" stroke="#333" stroke-width="0.7"/><rect x="1" y="0" width="21" height="2" fill="#8fd3e8"/><path d="M-12.6,158.2 L-12.6,160.3 L-1.1,165.1 L24.2,165.1 L34.4,160.3 L34.4,158.5 L24.2,163 L-1.1,163 Z" fill="#a9dcea" stroke="#444" stroke-width="0.75" stroke-linejoin="round"/><path d="M-12.6,158.2 L-0.5,152.5 L23.6,152.5 L34.4,158.5 L24.2,163 L-1.1,163 Z" fill="#e2f4f9" stroke="#444" stroke-width="0.75" stroke-linejoin="round"/><path d="M0,148 L0,154.5 Q0,156.3 2,156.3 L20,156.3 Q22,156.3 22,154.5 L22,148" fill="#f4a27c" stroke="#222" stroke-width="0.8"/></g><g transform="translate(954.3,261.5)"><rect x="0" y="1" width="22" height="154" fill="#d8eff7"/><rect x="0.5" y="77" width="21" height="78" fill="#3a6db3"/><rect x="17" y="77" width="4.5" height="78" fill="#28528f" opacity="0.6"/><rect x="0.5" y="75.5" width="21" height="2.5" fill="#ffffff" opacity="0.45"/><g stroke="#0e0e0e" stroke-width="0.9"><path d="M0.5,45.50 Q11.0,47.70 22,45.50" fill="none" stroke-width="0.8"/><line x1="1.5" y1="47.50" x2="15" y2="47.50" stroke-width="1"/><line x1="1.5" y1="49.90" x2="11" y2="49.90"/><line x1="1.5" y1="52.10" x2="11" y2="52.10"/><line x1="1.5" y1="54.30" x2="11" y2="54.30"/><line x1="1.5" y1="56.50" x2="12" y2="56.50" stroke-width="1.2"/><line x1="1.5" y1="58.70" x2="11" y2="58.70"/><line x1="1.5" y1="60.90" x2="11" y2="60.90"/><line x1="1.5" y1="63.10" x2="11" y2="63.10"/><line x1="1.5" y1="65.30" x2="11" y2="65.30"/><path d="M0.5,67.50 Q11.0,69.70 22,67.50" fill="none" stroke-width="0.8"/><line x1="1.5" y1="69.50" x2="15" y2="69.50" stroke-width="1"/><line x1="1.5" y1="71.90" x2="11" y2="71.90"/><line x1="1.5" y1="74.10" x2="11" y2="74.10"/><line x1="1.5" y1="76.30" x2="11" y2="76.30"/><line x1="1.5" y1="78.50" x2="12" y2="78.50" stroke-width="1.2"/><line x1="1.5" y1="80.70" x2="11" y2="80.70"/><line x1="1.5" y1="82.90" x2="11" y2="82.90"/><line x1="1.5" y1="85.10" x2="11" y2="85.10"/><line x1="1.5" y1="87.30" x2="11" y2="87.30"/><path d="M0.5,89.50 Q11.0,91.70 22,89.50" fill="none" stroke-width="0.8"/><line x1="1.5" y1="91.50" x2="15" y2="91.50" stroke-width="1"/><line x1="1.5" y1="93.90" x2="11" y2="93.90"/><line x1="1.5" y1="96.10" x2="11" y2="96.10"/><line x1="1.5" y1="98.30" x2="11" y2="98.30"/><line x1="1.5" y1="100.50" x2="12" y2="100.50" stroke-width="1.2"/><line x1="1.5" y1="102.70" x2="11" y2="102.70"/><line x1="1.5" y1="104.90" x2="11" y2="104.90"/><line x1="1.5" y1="107.10" x2="11" y2="107.10"/><line x1="1.5" y1="109.30" x2="11" y2="109.30"/><path d="M0.5,111.50 Q11.0,113.70 22,111.50" fill="none" stroke-width="0.8"/><line x1="1.5" y1="113.50" x2="15" y2="113.50" stroke-width="1"/><line x1="1.5" y1="115.90" x2="11" y2="115.90"/><line x1="1.5" y1="118.10" x2="11" y2="118.10"/><line x1="1.5" y1="120.30" x2="11" y2="120.30"/><line x1="1.5" y1="122.50" x2="12" y2="122.50" stroke-width="1.2"/><line x1="1.5" y1="124.70" x2="11" y2="124.70"/><line x1="1.5" y1="126.90" x2="11" y2="126.90"/><line x1="1.5" y1="129.10" x2="11" y2="129.10"/><line x1="1.5" y1="131.30" x2="11" y2="131.30"/><path d="M0.5,133.50 Q11.0,135.70 22,133.50" fill="none" stroke-width="0.8"/><line x1="1.5" y1="135.50" x2="15" y2="135.50" stroke-width="1"/><line x1="1.5" y1="137.90" x2="11" y2="137.90"/><line x1="1.5" y1="140.10" x2="11" y2="140.10"/><line x1="1.5" y1="142.30" x2="11" y2="142.30"/><line x1="1.5" y1="144.50" x2="12" y2="144.50" stroke-width="1.2"/><line x1="1.5" y1="146.70" x2="11" y2="146.70"/><line x1="1.5" y1="148.90" x2="11" y2="148.90"/><line x1="1.5" y1="151.10" x2="11" y2="151.10"/><line x1="1.5" y1="153.30" x2="11" y2="153.30"/></g><line x1="3" y1="4" x2="3" y2="152" stroke="#ffffff" stroke-width="1" opacity="0.7"/><rect x="0" y="1" width="22" height="154" fill="none" stroke="#333" stroke-width="0.8"/><path d="M-4,0.5 L22.8,0.5 L22.8,3 L0.5,3 L0,9 Z" fill="#c6e8f3" stroke="#333" stroke-width="0.7"/><rect x="1" y="0" width="21" height="2" fill="#8fd3e8"/><path d="M-12.6,158.2 L-12.6,160.3 L-1.1,165.1 L24.2,165.1 L34.4,160.3 L34.4,158.5 L24.2,163 L-1.1,163 Z" fill="#a9dcea" stroke="#444" stroke-width="0.75" stroke-linejoin="round"/><path d="M-12.6,158.2 L-0.5,152.5 L23.6,152.5 L34.4,158.5 L24.2,163 L-1.1,163 Z" fill="#e2f4f9" stroke="#444" stroke-width="0.75" stroke-linejoin="round"/><path d="M0,148 L0,154.5 Q0,156.3 2,156.3 L20,156.3 Q22,156.3 22,154.5 L22,148" fill="#3a6db3" stroke="#222" stroke-width="0.8"/></g><g><defs><linearGradient id="vialG" x1="0" y1="0" x2="1" y2="0"><stop offset="0" stop-color="#cfcfcf"/><stop offset="0.12" stop-color="#f4f4f4"/><stop offset="0.5" stop-color="#fbfbfb"/><stop offset="0.88" stop-color="#f0f0f0"/><stop offset="1" stop-color="#c4c4c4"/></linearGradient><linearGradient id="vialL" x1="0" y1="0" x2="1" y2="0"><stop offset="0" stop-color="#8a96b0"/><stop offset="0.25" stop-color="#aab6d0"/><stop offset="0.5" stop-color="#b8c4de"/><stop offset="0.8" stop-color="#a9b5ce"/><stop offset="1" stop-color="#8c98b2"/></linearGradient><radialGradient id="capG" cx="0.5" cy="0.2" r="0.7"><stop offset="0" stop-color="#2a2a2a"/><stop offset="1" stop-color="#050505"/></radialGradient></defs><path d="M999.5,356 Q999.5,352 1004,352 L1046.5,352 Q1051.2,352 1051.2,356 L1051.2,425 Q1051.2,429.7 1046.5,429.7 L1004,429.7 Q999.5,429.7 999.5,425 Z" fill="url(#vialG)" stroke="#d8d8d8" stroke-width="0.6"/><path d="M1000.3,384.5 L1050.4,384.5 L1050.4,421 Q1050.4,425.5 1046,425.5 L1004.5,425.5 Q1000.3,425.5 1000.3,421 Z" fill="url(#vialL)"/><ellipse cx="1025.3" cy="384.6" rx="25" ry="2.8" fill="#b9c8e6"/><line x1="1020.5" y1="387" x2="1020.5" y2="425" stroke="#c8d2ea" stroke-width="0.6" opacity="0.7"/><path d="M998.6,330 Q998.6,322.8 1025.3,322.8 Q1052,322.8 1052,330 L1052,349 Q1052,353.5 1047,353.5 L1003.6,353.5 Q998.6,353.5 998.6,349 Z" fill="url(#capG)"/><ellipse cx="1012" cy="330" rx="5" ry="1.2" fill="#555" opacity="0.8"/><ellipse cx="1037" cy="331" rx="5" ry="1.2" fill="#444" opacity="0.7"/></g><g transform="translate(403.5,294) scale(1.0)"><path d="M12.7,20 L12.7,122 C12.7,131 25.050000000000004,136 55.050000000000004,136 C85.05000000000001,136 97.4,131 97.4,122 L97.4,16 Z" fill="#bfe5f1"/><rect x="89.9" y="16" width="7.5" height="50" fill="#8ed2e7"/><path d="M15.7,64 L15.7,32 Q15.7,24 24.7,24 L81.4,24 Q89.9,24 89.9,34 L89.9,64 Z" fill="#daf0f7"/><path d="M12.7,64 L12.7,122 C12.7,131 25.050000000000004,136 55.050000000000004,136 C85.05000000000001,136 97.4,131 97.4,122 L97.4,64 Z" fill="url(#liqBlue)"/><ellipse cx="55.050000000000004" cy="64" rx="42.35" ry="8.5" fill="#b8d4ee"/><path d="M13.2,64.5 C32.7,72.8 77.4,72.8 96.9,64.5" stroke="#ffffff" stroke-width="0.9" fill="none" opacity="0.85"/><ellipse cx="55.050000000000004" cy="121" rx="37" ry="10" fill="#aecdec" opacity="0.55"/><circle cx="27.7" cy="71.5" r="1" fill="#fff"/><circle cx="30.7" cy="71.8" r="1.2" fill="#fff"/><circle cx="33.7" cy="72" r="0.8" fill="#fff"/><rect x="27.3" y="83.4" width="30.2" height="22.6" rx="3" fill="#f0f7fb"/><g stroke="#3a4658" stroke-width="1" stroke-linecap="round"><line x1="61.8" y1="64" x2="61.8" y2="110.9"/><line x1="61.8" y1="64" x2="72" y2="64"/><line x1="61.8" y1="74.2" x2="73.7" y2="74.2"/><line x1="61.8" y1="86.1" x2="73.7" y2="86.1"/><line x1="61.8" y1="97.9" x2="73.7" y2="97.9"/><line x1="39.7" y1="96.3" x2="59.6" y2="92.5"/><line x1="39.7" y1="96.3" x2="53.7" y2="109.2"/><line x1="53.2" y1="93.1" x2="60.7" y2="110.9"/><line x1="31.1" y1="102.2" x2="41.3" y2="119.5"/><line x1="39.7" y1="103.9" x2="54.2" y2="116.8"/><line x1="52.1" y1="115.2" x2="71" y2="116.2"/><line x1="61.8" y1="96.9" x2="79.6" y2="106.5"/><line x1="75.8" y1="90.4" x2="80.1" y2="109.3"/><line x1="61.3" y1="109.8" x2="81.7" y2="111.4"/><line x1="65.6" y1="110.9" x2="83.9" y2="120.6"/><line x1="37.5" y1="120.6" x2="74.2" y2="119.5"/><line x1="27.3" y1="124.3" x2="47.2" y2="123.3"/><line x1="50.5" y1="125.4" x2="70.4" y2="124.7"/></g><path d="M15.2,28 L15.2,120 Q16.7,129 22.7,132" stroke="#ffffff" stroke-width="1.1" fill="none" opacity="0.7"/><path d="M12.7,20 L12.7,122 C12.7,131 25.050000000000004,136 55.050000000000004,136 C85.05000000000001,136 97.4,131 97.4,122 L97.4,16 Z" fill="none" stroke="#3d3d3d" stroke-width="0.95"/><path d="M1.5,20 C6,19 12.7,21 12.7,28" fill="none" stroke="#3d3d3d" stroke-width="0.95"/><path d="M1.5,20 C6,19 12.7,21 12.7,28 L12.7,18 Z" fill="#bfe5f1"/><path d="M4,11 C1,13 -0.5,17 0.3,19.5 C1,20.5 2.5,19.5 4,18.3 C7,17 10.5,18.5 12.7,22 L12.7,17 Z" fill="#ffffff" stroke="#3d3d3d" stroke-width="0.85" stroke-linejoin="round"/><ellipse cx="52" cy="10.75" rx="49.7" ry="10.6" fill="#ffffff" stroke="#333" stroke-width="0.8"/><ellipse cx="52.3" cy="10.1" rx="46.8" ry="8.4" fill="#a3dbee"/><ellipse cx="53" cy="12" rx="40" ry="5.8" fill="#7ccae4"/><ellipse cx="54" cy="14.4" rx="30" ry="3.3" fill="#45a9d4"/><path d="M6.5,12 C12,4 92,3 97.5,10" fill="none" stroke="#333" stroke-width="0.5" opacity="0.5"/></g><g transform="translate(547.2,275)"><path d="M-6.5,11 L-6.5,84 C-8,92 -20,102 -24.5,112 C-28,121 -28,134 -24,142 C-20,150 -10,152.5 0,152.5 C10,152.5 20,150 24,142 C28,134 28,121 24.5,112 C20,102 8,92 6.5,84 L6.5,11 Z" fill="#d9eff7"/><clipPath id="fc547"><path d="M-6.5,11 L-6.5,84 C-8,92 -20,102 -24.5,112 C-28,121 -28,134 -24,142 C-20,150 -10,152.5 0,152.5 C10,152.5 20,150 24,142 C28,134 28,121 24.5,112 C20,102 8,92 6.5,84 L6.5,11 Z"/></clipPath><g clip-path="url(#fc547)"><rect x="-30" y="98" width="60" height="60" fill="#a3c5e8"/><ellipse cx="0" cy="98.3" rx="15.5" ry="1.6" fill="#b8d3ee"/><ellipse cx="0" cy="147.5" rx="16" ry="3.8" fill="none" stroke="#ffffff" stroke-width="1" opacity="0.85"/><rect x="1.5" y="14" width="3" height="72" fill="#a9dbec" opacity="0.7"/></g><path d="M-21,114 C-25,124 -25,134 -20,143" stroke="#ffffff" stroke-width="1" fill="none" opacity="0.6"/><path d="M21,114 C25,124 25,134 20,143" stroke="#ffffff" stroke-width="0.7" fill="none" opacity="0.4"/><path d="M-6.5,11 L-6.5,84 C-8,92 -20,102 -24.5,112 C-28,121 -28,134 -24,142 C-20,150 -10,152.5 0,152.5 C10,152.5 20,150 24,142 C28,134 28,121 24.5,112 C20,102 8,92 6.5,84 L6.5,11 Z" fill="none" stroke="#444" stroke-width="0.9"/><rect x="-6.6" y="11" width="13.2" height="8" fill="#eaf7fa" stroke="#444" stroke-width="0.8"/><line x1="-6.6" y1="18.5" x2="6.6" y2="18.5" stroke="#555" stroke-width="0.7"/><rect x="-6" y="4.5" width="12" height="4.5" fill="#d5edf4"/><rect x="-8.8" y="8.2" width="17.8" height="3.8" rx="1.8" fill="#3c3c3c"/><rect x="-11" y="-0.3" width="22" height="5.6" rx="2.8" fill="#a9bcc2" stroke="#3a3a3a" stroke-width="0.8"/><ellipse cx="0" cy="1.8" rx="8" ry="1.3" fill="#e6f1f3"/></g><g transform="translate(607.2,263.3)"><rect x="0" y="1" width="22" height="154" fill="#d8eff7"/><rect x="0.5" y="76" width="21" height="79" fill="#3d6db5"/><rect x="17" y="76" width="4.5" height="79" fill="#2a4f8f" opacity="0.6"/><rect x="0.5" y="74.5" width="21" height="2.5" fill="#ffffff" opacity="0.45"/><g stroke="#0e0e0e" stroke-width="0.9"><path d="M0.5,45.50 Q11.0,47.70 22,45.50" fill="none" stroke-width="0.8"/><line x1="1.5" y1="47.50" x2="15" y2="47.50" stroke-width="1"/><line x1="1.5" y1="49.90" x2="11" y2="49.90"/><line x1="1.5" y1="52.10" x2="11" y2="52.10"/><line x1="1.5" y1="54.30" x2="11" y2="54.30"/><line x1="1.5" y1="56.50" x2="12" y2="56.50" stroke-width="1.2"/><line x1="1.5" y1="58.70" x2="11" y2="58.70"/><line x1="1.5" y1="60.90" x2="11" y2="60.90"/><line x1="1.5" y1="63.10" x2="11" y2="63.10"/><line x1="1.5" y1="65.30" x2="11" y2="65.30"/><path d="M0.5,67.50 Q11.0,69.70 22,67.50" fill="none" stroke-width="0.8"/><line x1="1.5" y1="69.50" x2="15" y2="69.50" stroke-width="1"/><line x1="1.5" y1="71.90" x2="11" y2="71.90"/><line x1="1.5" y1="74.10" x2="11" y2="74.10"/><line x1="1.5" y1="76.30" x2="11" y2="76.30"/><line x1="1.5" y1="78.50" x2="12" y2="78.50" stroke-width="1.2"/><line x1="1.5" y1="80.70" x2="11" y2="80.70"/><line x1="1.5" y1="82.90" x2="11" y2="82.90"/><line x1="1.5" y1="85.10" x2="11" y2="85.10"/><line x1="1.5" y1="87.30" x2="11" y2="87.30"/><path d="M0.5,89.50 Q11.0,91.70 22,89.50" fill="none" stroke-width="0.8"/><line x1="1.5" y1="91.50" x2="15" y2="91.50" stroke-width="1"/><line x1="1.5" y1="93.90" x2="11" y2="93.90"/><line x1="1.5" y1="96.10" x2="11" y2="96.10"/><line x1="1.5" y1="98.30" x2="11" y2="98.30"/><line x1="1.5" y1="100.50" x2="12" y2="100.50" stroke-width="1.2"/><line x1="1.5" y1="102.70" x2="11" y2="102.70"/><line x1="1.5" y1="104.90" x2="11" y2="104.90"/><line x1="1.5" y1="107.10" x2="11" y2="107.10"/><line x1="1.5" y1="109.30" x2="11" y2="109.30"/><path d="M0.5,111.50 Q11.0,113.70 22,111.50" fill="none" stroke-width="0.8"/><line x1="1.5" y1="113.50" x2="15" y2="113.50" stroke-width="1"/><line x1="1.5" y1="115.90" x2="11" y2="115.90"/><line x1="1.5" y1="118.10" x2="11" y2="118.10"/><line x1="1.5" y1="120.30" x2="11" y2="120.30"/><line x1="1.5" y1="122.50" x2="12" y2="122.50" stroke-width="1.2"/><line x1="1.5" y1="124.70" x2="11" y2="124.70"/><line x1="1.5" y1="126.90" x2="11" y2="126.90"/><line x1="1.5" y1="129.10" x2="11" y2="129.10"/><line x1="1.5" y1="131.30" x2="11" y2="131.30"/><path d="M0.5,133.50 Q11.0,135.70 22,133.50" fill="none" stroke-width="0.8"/><line x1="1.5" y1="135.50" x2="15" y2="135.50" stroke-width="1"/><line x1="1.5" y1="137.90" x2="11" y2="137.90"/><line x1="1.5" y1="140.10" x2="11" y2="140.10"/><line x1="1.5" y1="142.30" x2="11" y2="142.30"/><line x1="1.5" y1="144.50" x2="12" y2="144.50" stroke-width="1.2"/><line x1="1.5" y1="146.70" x2="11" y2="146.70"/><line x1="1.5" y1="148.90" x2="11" y2="148.90"/><line x1="1.5" y1="151.10" x2="11" y2="151.10"/><line x1="1.5" y1="153.30" x2="11" y2="153.30"/></g><line x1="3" y1="4" x2="3" y2="152" stroke="#ffffff" stroke-width="1" opacity="0.7"/><rect x="0" y="1" width="22" height="154" fill="none" stroke="#333" stroke-width="0.8"/><path d="M-4,0.5 L22.8,0.5 L22.8,3 L0.5,3 L0,9 Z" fill="#c6e8f3" stroke="#333" stroke-width="0.7"/><rect x="1" y="0" width="21" height="2" fill="#8fd3e8"/><path d="M-12.6,158.2 L-12.6,160.3 L-1.1,165.1 L24.2,165.1 L34.4,160.3 L34.4,158.5 L24.2,163 L-1.1,163 Z" fill="#a9dcea" stroke="#444" stroke-width="0.75" stroke-linejoin="round"/><path d="M-12.6,158.2 L-0.5,152.5 L23.6,152.5 L34.4,158.5 L24.2,163 L-1.1,163 Z" fill="#e2f4f9" stroke="#444" stroke-width="0.75" stroke-linejoin="round"/><path d="M0,148 L0,154.5 Q0,156.3 2,156.3 L20,156.3 Q22,156.3 22,154.5 L22,148" fill="#3d6db5" stroke="#222" stroke-width="0.8"/></g><g transform="translate(461.6,281.9) rotate(-38.3)"><defs><linearGradient id="pipG" x1="0" y1="0" x2="0" y2="1"><stop offset="0" stop-color="#f5f5f5"/><stop offset="0.5" stop-color="#d0d4d6"/><stop offset="1" stop-color="#9a9ea0"/></linearGradient><radialGradient id="bulbG" cx="0.45" cy="0.4" r="0.6"><stop offset="0" stop-color="#ff3030"/><stop offset="0.6" stop-color="#d40c0c"/><stop offset="1" stop-color="#8a0000"/></radialGradient></defs><path d="M0,0 L61,-2.7 L61,2.7 Z" fill="url(#pipG)" stroke="#a0a0a0" stroke-width="0.35"/><rect x="58" y="-2.4" width="4" height="4.8" fill="#e8e8e0"/><rect x="61.5" y="-3.8" width="12" height="7.6" rx="1" fill="#cc0a0a"/><ellipse cx="85" cy="0" rx="13" ry="8.3" fill="url(#bulbG)"/></g><defs><linearGradient id="dropG" x1="0" y1="0" x2="1" y2="0"><stop offset="0" stop-color="#4f7fb8"/><stop offset="0.5" stop-color="#8fb6e0"/><stop offset="1" stop-color="#4f7fb8"/></linearGradient></defs><path d="M457.8,284.7 C459.5,291 462.4,297 462.4,302.5 C462.4,307 460.4,309.7 457.8,309.7 C455.2,309.7 453.2,307 453.2,302.5 C453.2,297 456,291 457.8,284.7 Z" fill="url(#dropG)"/><g><defs><linearGradient id="silv" x1="0" y1="0" x2="1" y2="0"><stop offset="0" stop-color="#a8a8a8"/><stop offset="0.3" stop-color="#e8e8e8"/><stop offset="0.75" stop-color="#cfcfcf"/><stop offset="1" stop-color="#9a9a9a"/></linearGradient><linearGradient id="silv2" x1="0" y1="0" x2="1" y2="0"><stop offset="0" stop-color="#b8b8b8"/><stop offset="0.45" stop-color="#ececec"/><stop offset="1" stop-color="#a8a8a8"/></linearGradient><linearGradient id="tank" x1="0" y1="0" x2="0" y2="1"><stop offset="0" stop-color="#6e6e6e"/><stop offset="0.35" stop-color="#b4b4b4"/><stop offset="1" stop-color="#d6d6d6"/></linearGradient><linearGradient id="lidG" x1="0" y1="0" x2="0" y2="1"><stop offset="0" stop-color="#616267"/><stop offset="1" stop-color="#444549"/></linearGradient><radialGradient id="shad" cx="0.5" cy="0.5" r="0.5"><stop offset="0" stop-color="#bdbdbd"/><stop offset="0.6" stop-color="#e2e2e2"/><stop offset="1" stop-color="#ffffff" stop-opacity="0"/></radialGradient></defs><ellipse cx="108" cy="418" rx="102" ry="14" fill="url(#shad)"/><polygon points="168.0,322.0 201.3,302.0 201.3,401.0 168.0,417.0" fill="url(#silv2)"/><path d="M172.5,329 L188.5,322.5 Q190.5,322 190.5,324.5 L190.5,345.5 Q190.5,347.5 188.5,348.3 L174.5,353.5 Q172.5,354 172.5,351.5 Z" fill="#141414"/><path d="M175.5,333 L187.5,328 L187.5,337 L175.5,342 Z" fill="#3c3c3c"/><polygon points="19.2,305.0 48.0,309.0 48.0,406.0 19.2,404.6" fill="url(#silv)"/><rect x="27" y="403" width="6" height="3" fill="#333"/><path d="M46.8,308.5 L162,320.5 Q169,321.5 169,328 L169,421 Q169,428 162,427 L46.8,407 Z" fill="#232323"/><path d="M150,319 L162,320.5 Q169,321.5 169,328 L169,421 Q169,428 162,427 L150,425 Z" fill="#1a1a1a"/><polygon points="52.6,321.8 141.4,333.0 141.4,384.0 52.6,372.0" fill="#141414"/><polygon points="59.5,335.6 140.3,342.3 140.3,375.9 59.5,365.5" fill="#c9c9c9"/><polygon points="91.7,343.2 107.8,344.6 107.8,355.9 91.7,354.6" fill="#1f8f55"/><text x="93.8" y="354" font-family="Liberation Sans" font-size="9.5" font-weight="bold" fill="#7ef0a8">25</text><circle cx="68.7" cy="356.3" r="4" fill="none" stroke="#d83a3a" stroke-width="1.1"/><circle cx="128.5" cy="365" r="4.6" fill="none" stroke="#44b066" stroke-width="1.1"/><circle cx="83" cy="360.5" r="2.7" fill="none" stroke="#777" stroke-width="0.8"/><circle cx="94" cy="362.5" r="2.7" fill="none" stroke="#777" stroke-width="0.8"/><circle cx="102" cy="363.5" r="2.7" fill="none" stroke="#777" stroke-width="0.8"/><circle cx="113" cy="365.5" r="2.7" fill="none" stroke="#777" stroke-width="0.8"/><g fill="#7a7a7a"><rect x="78" y="345.0" width="9" height="1"/><rect x="78" y="347.4" width="9" height="1"/><rect x="78" y="349.8" width="9" height="1"/><rect x="110" y="347.5" width="9" height="1"/><rect x="110" y="349.9" width="9" height="1"/><rect x="110" y="352.3" width="9" height="1"/><rect x="62" y="340" width="10" height="1.2" fill="#b03030"/></g><polygon points="90.1,395.4 100.9,396.6 100.9,409.2 90.1,408.0" fill="#e8e8e8" stroke="#aaa" stroke-width="0.5"/><polygon points="16.9,300.0 169.0,316.0 169.0,324.5 16.9,306.5" fill="#2a2b2e"/><polygon points="169.0,316.0 201.3,298.0 201.3,304.5 169.0,324.5" fill="#26272a"/><path d="M17,302 Q14.5,299 19,296.8 L62,279.6 Q66,278.3 70,278.7 L197,292.5 Q203.5,294 200,297.8 L172,315 Q169,316.5 165,316 Z" fill="url(#lidG)"/><path d="M45,299 Q41.5,297.5 45,295 L72,284.5 Q75,283.5 78,284 L172,296.5 Q177.5,297.5 174,300.5 L162,310 Q159,311.8 155,311.3 Z" fill="#161616"/><path d="M50,298.5 L75,287 L170,299 L157,309 Z" fill="url(#tank)"/><path d="M50,298.5 L75,287 L170,299 L166,302 L77,290.5 Z" fill="#5c5c5c"/><path d="M56,297.5 L78,291 L164,302.5 L156,308 Z" fill="#c4c4c4" opacity="0.6"/></g><polygon points="209.3,256.0 221.8,251.2 225.7,261.1 223.1,262.4 229.6,270.6 226.6,272.3 233.9,287.0 219.2,273.6 222.2,272.3 214.5,265.0 217.9,263.7" fill="#ffc000"/><polygon points="191.2,281.4 199.4,268.4 210.6,274.9 207.6,276.6 220.5,282.2 218.4,284.0 237.3,292.6 214.1,291.3 216.2,289.6 203.3,286.6 205.9,284.8" fill="#ffc000"/><g transform="translate(207,295) scale(1.0)"><path d="M12.7,20 L12.7,122 C12.7,131 25.050000000000004,136 55.050000000000004,136 C85.05000000000001,136 97.4,131 97.4,122 L97.4,16 Z" fill="#bfe5f1"/><rect x="89.9" y="16" width="7.5" height="50" fill="#8ed2e7"/><path d="M15.7,64 L15.7,32 Q15.7,24 24.7,24 L81.4,24 Q89.9,24 89.9,34 L89.9,64 Z" fill="#daf0f7"/><path d="M12.7,64 L12.7,122 C12.7,131 25.050000000000004,136 55.050000000000004,136 C85.05000000000001,136 97.4,131 97.4,122 L97.4,64 Z" fill="url(#liqBlue)"/><ellipse cx="55.050000000000004" cy="64" rx="42.35" ry="8.5" fill="#b8d4ee"/><path d="M13.2,64.5 C32.7,72.8 77.4,72.8 96.9,64.5" stroke="#ffffff" stroke-width="0.9" fill="none" opacity="0.85"/><ellipse cx="55.050000000000004" cy="121" rx="37" ry="10" fill="#aecdec" opacity="0.55"/><circle cx="27.7" cy="71.5" r="1" fill="#fff"/><circle cx="30.7" cy="71.8" r="1.2" fill="#fff"/><circle cx="33.7" cy="72" r="0.8" fill="#fff"/><rect x="27.3" y="83.4" width="30.2" height="22.6" rx="3" fill="#f0f7fb"/><g stroke="#3a4658" stroke-width="1" stroke-linecap="round"><line x1="61.8" y1="64" x2="61.8" y2="110.9"/><line x1="61.8" y1="64" x2="72" y2="64"/><line x1="61.8" y1="74.2" x2="73.7" y2="74.2"/><line x1="61.8" y1="86.1" x2="73.7" y2="86.1"/><line x1="61.8" y1="97.9" x2="73.7" y2="97.9"/><line x1="39.7" y1="96.3" x2="59.6" y2="92.5"/><line x1="39.7" y1="96.3" x2="53.7" y2="109.2"/><line x1="53.2" y1="93.1" x2="60.7" y2="110.9"/><line x1="31.1" y1="102.2" x2="41.3" y2="119.5"/><line x1="39.7" y1="103.9" x2="54.2" y2="116.8"/><line x1="52.1" y1="115.2" x2="71" y2="116.2"/><line x1="61.8" y1="96.9" x2="79.6" y2="106.5"/><line x1="75.8" y1="90.4" x2="80.1" y2="109.3"/><line x1="61.3" y1="109.8" x2="81.7" y2="111.4"/><line x1="65.6" y1="110.9" x2="83.9" y2="120.6"/><line x1="37.5" y1="120.6" x2="74.2" y2="119.5"/><line x1="27.3" y1="124.3" x2="47.2" y2="123.3"/><line x1="50.5" y1="125.4" x2="70.4" y2="124.7"/></g><path d="M15.2,28 L15.2,120 Q16.7,129 22.7,132" stroke="#ffffff" stroke-width="1.1" fill="none" opacity="0.7"/><path d="M12.7,20 L12.7,122 C12.7,131 25.050000000000004,136 55.050000000000004,136 C85.05000000000001,136 97.4,131 97.4,122 L97.4,16 Z" fill="none" stroke="#3d3d3d" stroke-width="0.95"/><path d="M1.5,20 C6,19 12.7,21 12.7,28" fill="none" stroke="#3d3d3d" stroke-width="0.95"/><path d="M1.5,20 C6,19 12.7,21 12.7,28 L12.7,18 Z" fill="#bfe5f1"/><path d="M5,12.5 C2,14 0,18 0.8,20.5 C1.5,21.5 3,20.5 4.5,19.3 C7.5,18 10.5,19.5 12.7,23 L12.7,18 Z" fill="#f4fbfd" stroke="#3d3d3d" stroke-width="0.85" stroke-linejoin="round"/><ellipse cx="53.7" cy="12" rx="47.8" ry="10.8" fill="#b9e9f5" stroke="#2c3e5a" stroke-width="1.1"/><ellipse cx="53.7" cy="12" rx="41.8" ry="5.6" fill="#b4e6f3" stroke="#93c3d1" stroke-width="0.9"/><path d="M12,12.5 C25,17 82,17 95,12.5" fill="none" stroke="#ffffff" stroke-width="0.6" opacity="0.8"/></g><g><polygon points="2.7,526.2 54.6,494.4 211.7,516.2 160.4,549.6" fill="#ececec"/><polygon points="2.7,526.2 160.4,549.6 160.4,635.4 2.7,613.1" fill="#adadad"/><defs><linearGradient id="wbR" x1="0" y1="0" x2="1" y2="0"><stop offset="0" stop-color="#fafafa"/><stop offset="1" stop-color="#efefef"/></linearGradient></defs><polygon points="160.4,549.6 211.7,516.2 211.7,606.4 160.4,635.4" fill="url(#wbR)"/><polygon points="13.4,525.1 55.7,497.3 177.1,516.2 138.1,544.0" fill="#a3a3a3" stroke="#4a4a4a" stroke-width="0.7"/><ellipse cx="65.7" cy="517.3" rx="29" ry="9.4" fill="#ffffff" stroke="#bbb" stroke-width="0.5"/><ellipse cx="65.7" cy="517.3" rx="20.88" ry="6.392" fill="none" stroke="#9a9a9a" stroke-width="0.8"/><ellipse cx="65.7" cy="517.3" rx="13.05" ry="3.948" fill="none" stroke="#9a9a9a" stroke-width="0.8"/><ellipse cx="65.7" cy="517.3" rx="5.800000000000001" ry="1.8800000000000001" fill="none" stroke="#9a9a9a" stroke-width="0.6"/><rect x="63.1" y="508.29999999999995" width="5.2" height="9" fill="#3a3a3a"/><ellipse cx="65.7" cy="507.79999999999995" rx="4.6" ry="2.2" fill="#5a5a5a"/><ellipse cx="65.7" cy="517.3" rx="2.6" ry="1" fill="#2a2a2a"/><ellipse cx="124.8" cy="525.6" rx="28.5" ry="9.8" fill="#ffffff" stroke="#bbb" stroke-width="0.5"/><ellipse cx="124.8" cy="525.6" rx="20.52" ry="6.664000000000001" fill="none" stroke="#9a9a9a" stroke-width="0.8"/><ellipse cx="124.8" cy="525.6" rx="12.825000000000001" ry="4.1160000000000005" fill="none" stroke="#9a9a9a" stroke-width="0.8"/><ellipse cx="124.8" cy="525.6" rx="5.7" ry="1.9600000000000002" fill="none" stroke="#9a9a9a" stroke-width="0.6"/><rect x="122.2" y="516.6" width="5.2" height="9" fill="#3a3a3a"/><ellipse cx="124.8" cy="516.1" rx="4.6" ry="2.2" fill="#5a5a5a"/><ellipse cx="124.8" cy="525.6" rx="2.6" ry="1" fill="#2a2a2a"/><polygon points="120.0,551.5 156.5,557.0 156.5,587.0 120.0,581.5" fill="#202020"/><polygon points="118.1,549.6 154.9,555.2 154.9,585.3 118.1,579.7" fill="#8d8d8d"/><polygon points="120.9,557.8 149.0,561.5 149.0,572.7 120.9,569.3" fill="#ffffff"/><polygon points="121.8,558.9 148.1,562.4 148.1,571.6 121.8,568.2" fill="#d40000"/><rect x="129" y="594.5" width="17.5" height="9" fill="#e2e2e2" stroke="#bbb" stroke-width="0.5"/><rect x="131" y="596.3" width="9.5" height="5.5" fill="#58a83a"/><rect x="141" y="594.5" width="5" height="9" fill="#1c1c1c"/></g><g transform="translate(207,494) scale(1.0)"><path d="M12.7,20 L12.7,122 C12.7,131 25.050000000000004,136 55.050000000000004,136 C85.05000000000001,136 97.4,131 97.4,122 L97.4,16 Z" fill="#bfe5f1"/><rect x="89.9" y="16" width="7.5" height="50" fill="#8ed2e7"/><path d="M15.7,64 L15.7,32 Q15.7,24 24.7,24 L81.4,24 Q89.9,24 89.9,34 L89.9,64 Z" fill="#daf0f7"/><path d="M12.7,64 L12.7,122 C12.7,131 25.050000000000004,136 55.050000000000004,136 C85.05000000000001,136 97.4,131 97.4,122 L97.4,64 Z" fill="url(#liqBlue)"/><ellipse cx="55.050000000000004" cy="64" rx="42.35" ry="8.5" fill="#b8d4ee"/><path d="M13.2,64.5 C32.7,72.8 77.4,72.8 96.9,64.5" stroke="#ffffff" stroke-width="0.9" fill="none" opacity="0.85"/><ellipse cx="55.050000000000004" cy="121" rx="37" ry="10" fill="#aecdec" opacity="0.55"/><circle cx="27.7" cy="71.5" r="1" fill="#fff"/><circle cx="30.7" cy="71.8" r="1.2" fill="#fff"/><circle cx="33.7" cy="72" r="0.8" fill="#fff"/><rect x="27.3" y="83.4" width="30.2" height="22.6" rx="3" fill="#f0f7fb"/><g stroke="#3a4658" stroke-width="1" stroke-linecap="round"><line x1="61.8" y1="64" x2="61.8" y2="110.9"/><line x1="61.8" y1="64" x2="72" y2="64"/><line x1="61.8" y1="74.2" x2="73.7" y2="74.2"/><line x1="61.8" y1="86.1" x2="73.7" y2="86.1"/><line x1="61.8" y1="97.9" x2="73.7" y2="97.9"/><line x1="39.7" y1="96.3" x2="59.6" y2="92.5"/><line x1="39.7" y1="96.3" x2="53.7" y2="109.2"/><line x1="53.2" y1="93.1" x2="60.7" y2="110.9"/><line x1="31.1" y1="102.2" x2="41.3" y2="119.5"/><line x1="39.7" y1="103.9" x2="54.2" y2="116.8"/><line x1="52.1" y1="115.2" x2="71" y2="116.2"/><line x1="61.8" y1="96.9" x2="79.6" y2="106.5"/><line x1="75.8" y1="90.4" x2="80.1" y2="109.3"/><line x1="61.3" y1="109.8" x2="81.7" y2="111.4"/><line x1="65.6" y1="110.9" x2="83.9" y2="120.6"/><line x1="37.5" y1="120.6" x2="74.2" y2="119.5"/><line x1="27.3" y1="124.3" x2="47.2" y2="123.3"/><line x1="50.5" y1="125.4" x2="70.4" y2="124.7"/></g><path d="M15.2,28 L15.2,120 Q16.7,129 22.7,132" stroke="#ffffff" stroke-width="1.1" fill="none" opacity="0.7"/><path d="M12.7,20 L12.7,122 C12.7,131 25.050000000000004,136 55.050000000000004,136 C85.05000000000001,136 97.4,131 97.4,122 L97.4,16 Z" fill="none" stroke="#3d3d3d" stroke-width="0.95"/><path d="M1.5,20 C6,19 12.7,21 12.7,28" fill="none" stroke="#3d3d3d" stroke-width="0.95"/><path d="M1.5,20 C6,19 12.7,21 12.7,28 L12.7,18 Z" fill="#bfe5f1"/><path d="M5,12.5 C2,14 0,18 0.8,20.5 C1.5,21.5 3,20.5 4.5,19.3 C7.5,18 10.5,19.5 12.7,23 L12.7,18 Z" fill="#f4fbfd" stroke="#3d3d3d" stroke-width="0.85" stroke-linejoin="round"/><ellipse cx="53.7" cy="12" rx="47.8" ry="10.8" fill="#b9e9f5" stroke="#2c3e5a" stroke-width="1.1"/><ellipse cx="53.7" cy="12" rx="41.8" ry="5.6" fill="#b4e6f3" stroke="#93c3d1" stroke-width="0.9"/><path d="M12,12.5 C25,17 82,17 95,12.5" fill="none" stroke="#ffffff" stroke-width="0.6" opacity="0.8"/></g><g stroke="#d40a12" stroke-width="1.9" fill="none" stroke-linecap="round"><path d="M249.4,503 C249.4,494 247.9,489 245.9,486.5 C243.4,484 242.20000000000002,482 242.0,477"/><path d="M257.7,503 C257.7,494 256.2,489 254.2,486.5 C251.7,484 250.5,482 250.29999999999998,477"/><path d="M266.0,503 C266.0,494 264.5,489 262.5,486.5 C260.0,484 258.8,482 258.6,477"/><path d="M275.3,503 C275.3,494 273.8,489 271.8,486.5 C269.3,484 268.1,482 267.90000000000003,477"/></g><polygon points="238.10000000000002,477.5 241.8,469.8 245.5,477.5" fill="#d40a12"/><polygon points="246.4,477.5 250.1,469.8 253.79999999999998,477.5" fill="#d40a12"/><polygon points="254.7,477.5 258.4,469.8 262.09999999999997,477.5" fill="#d40a12"/><polygon points="264.0,477.5 267.7,469.8 271.4,477.5" fill="#d40a12"/><g fill="#ffc000"><circle cx="442.6" cy="487.6" r="15.6"/><polygon points="456.4,473.2 474,468.9 461.6,482.2"/><polygon points="462,485.3 478.4,490 462,494.7"/><polygon points="460.7,497.3 468.9,512.4 453.8,504.2"/><polygon points="440,506.8 450.3,504.2 449.5,521.9"/><polygon points="428.4,501.2 437.4,506.4 424.5,518.4"/></g><g transform="translate(495,492) scale(1.0)"><path d="M12.7,20 L12.7,122 C12.7,131 25.050000000000004,136 55.050000000000004,136 C85.05000000000001,136 97.4,131 97.4,122 L97.4,16 Z" fill="#bfe5f1"/><rect x="89.9" y="16" width="7.5" height="50" fill="#8ed2e7"/><path d="M15.7,64 L15.7,32 Q15.7,24 24.7,24 L81.4,24 Q89.9,24 89.9,34 L89.9,64 Z" fill="#daf0f7"/><path d="M12.7,64 L12.7,122 C12.7,131 25.050000000000004,136 55.050000000000004,136 C85.05000000000001,136 97.4,131 97.4,122 L97.4,64 Z" fill="url(#liqBlue)"/><ellipse cx="55.050000000000004" cy="64" rx="42.35" ry="8.5" fill="#b8d4ee"/><path d="M13.2,64.5 C32.7,72.8 77.4,72.8 96.9,64.5" stroke="#ffffff" stroke-width="0.9" fill="none" opacity="0.85"/><ellipse cx="55.050000000000004" cy="121" rx="37" ry="10" fill="#aecdec" opacity="0.55"/><circle cx="27.7" cy="71.5" r="1" fill="#fff"/><circle cx="30.7" cy="71.8" r="1.2" fill="#fff"/><circle cx="33.7" cy="72" r="0.8" fill="#fff"/><rect x="27.3" y="83.4" width="30.2" height="22.6" rx="3" fill="#f0f7fb"/><g stroke="#3a4658" stroke-width="1" stroke-linecap="round"><line x1="61.8" y1="64" x2="61.8" y2="110.9"/><line x1="61.8" y1="64" x2="72" y2="64"/><line x1="61.8" y1="74.2" x2="73.7" y2="74.2"/><line x1="61.8" y1="86.1" x2="73.7" y2="86.1"/><line x1="61.8" y1="97.9" x2="73.7" y2="97.9"/><line x1="39.7" y1="96.3" x2="59.6" y2="92.5"/><line x1="39.7" y1="96.3" x2="53.7" y2="109.2"/><line x1="53.2" y1="93.1" x2="60.7" y2="110.9"/><line x1="31.1" y1="102.2" x2="41.3" y2="119.5"/><line x1="39.7" y1="103.9" x2="54.2" y2="116.8"/><line x1="52.1" y1="115.2" x2="71" y2="116.2"/><line x1="61.8" y1="96.9" x2="79.6" y2="106.5"/><line x1="75.8" y1="90.4" x2="80.1" y2="109.3"/><line x1="61.3" y1="109.8" x2="81.7" y2="111.4"/><line x1="65.6" y1="110.9" x2="83.9" y2="120.6"/><line x1="37.5" y1="120.6" x2="74.2" y2="119.5"/><line x1="27.3" y1="124.3" x2="47.2" y2="123.3"/><line x1="50.5" y1="125.4" x2="70.4" y2="124.7"/></g><path d="M15.2,28 L15.2,120 Q16.7,129 22.7,132" stroke="#ffffff" stroke-width="1.1" fill="none" opacity="0.7"/><path d="M12.7,20 L12.7,122 C12.7,131 25.050000000000004,136 55.050000000000004,136 C85.05000000000001,136 97.4,131 97.4,122 L97.4,16 Z" fill="none" stroke="#3d3d3d" stroke-width="0.95"/><path d="M1.5,20 C6,19 12.7,21 12.7,28" fill="none" stroke="#3d3d3d" stroke-width="0.95"/><path d="M1.5,20 C6,19 12.7,21 12.7,28 L12.7,18 Z" fill="#bfe5f1"/><path d="M5,12.5 C2,14 0,18 0.8,20.5 C1.5,21.5 3,20.5 4.5,19.3 C7.5,18 10.5,19.5 12.7,23 L12.7,18 Z" fill="#f4fbfd" stroke="#3d3d3d" stroke-width="0.85" stroke-linejoin="round"/><ellipse cx="53.7" cy="12" rx="47.8" ry="10.8" fill="#b9e9f5" stroke="#2c3e5a" stroke-width="1.1"/><ellipse cx="53.7" cy="12" rx="41.8" ry="5.6" fill="#b4e6f3" stroke="#93c3d1" stroke-width="0.9"/><path d="M12,12.5 C25,17 82,17 95,12.5" fill="none" stroke="#ffffff" stroke-width="0.6" opacity="0.8"/></g><g transform="translate(751.3,538.9) rotate(45)"><path d="M-27.5,-32 Q-27.5,-40.5 -19,-40.5 L19,-40.5 Q27.5,-40.5 27.5,-32 L27.5,32 Q27.5,40.5 19,40.5 L-19,40.5 Q-27.5,40.5 -27.5,32 Z" fill="#dde8f5"/><path d="M-23.5,-1 Q-23.5,-5 -19,-5 L19,-5 Q23.5,-5 23.5,-1 L23.5,31 Q23.5,36.5 18,36.5 L-18,36.5 Q-23.5,36.5 -23.5,31 Z" fill="#c3d8ef"/><rect x="-20" y="-35" width="14" height="68" rx="6" fill="#ffffff" opacity="0.35"/><path d="M-27.5,-32 Q-27.5,-40.5 -19,-40.5 L19,-40.5 Q27.5,-40.5 27.5,-32 L27.5,32 Q27.5,40.5 19,40.5 L-19,40.5 Q-27.5,40.5 -27.5,32 Z" fill="none" stroke="#6f6f6f" stroke-width="0.9"/><path d="M-1.6,-48 L1.6,-48 L1.6,31 L0,36 L-1.6,31 Z" fill="#e8f0f8" stroke="#9aa6b2" stroke-width="0.5"/><rect x="-13.5" y="-49" width="27" height="9" fill="#dde8f5" stroke="#6f6f6f" stroke-width="0.9"/><rect x="-18.5" y="-63.5" width="37" height="15" rx="2.5" fill="#dbe7f4" stroke="#6f6f6f" stroke-width="0.9"/><path d="M-2.2,-63.5 L-2.2,-79 Q-2.2,-81.5 0.5,-81.5 L41.5,-78.6 L41.7,-77.3 L2.2,-75.5 L2.2,-63.5 Z" fill="#dbe7f4" stroke="#6f6f6f" stroke-width="0.8" stroke-linejoin="round"/></g><g><clipPath id="pc847"><path d="M779.3000000000001,572.5 A68.4,38 0 0 0 916.1,572.5 L916.1,595.5 A68.4,38 0 0 1 779.3000000000001,595.5 Z"/></clipPath><path d="M779.3000000000001,572.5 A68.4,38 0 0 0 916.1,572.5 L916.1,595.5 A68.4,38 0 0 1 779.3000000000001,595.5 Z" fill="#a3c5e9"/><g clip-path="url(#pc847)"><rect x="785.7" y="572.5" width="2.2" height="63" fill="#ffffff"/><rect x="789.7" y="572.5" width="5" height="63" fill="#8eaee0"/><rect x="833.7" y="572.5" width="2.5" height="63" fill="#ffffff"/><rect x="837.7" y="572.5" width="5" height="63" fill="#8eaee0"/><rect x="899.7" y="572.5" width="4.5" height="63" fill="#8eaee0"/><rect x="905.7" y="572.5" width="2.2" height="63" fill="#ffffff"/><path d="M777.3000000000001,589.5 A70.4,38 0 0 0 918.1,589.5 L918.1,650.5 L777.3000000000001,650.5 Z" fill="#9fdbe9"/><path d="M777.3000000000001,588.8 A70.4,38 0 0 0 918.1,588.8" fill="none" stroke="#ffffff" stroke-width="1.3"/><path d="M777.3000000000001,590.1 A70.4,38 0 0 0 918.1,590.1" fill="none" stroke="#6a7f8a" stroke-width="0.6"/><path d="M777.3000000000001,593.0 A70.4,38 0 0 0 918.1,593.0" fill="none" stroke="#7dcfe2" stroke-width="1.5"/></g><path d="M779.3000000000001,572.5 A68.4,38 0 0 0 916.1,572.5 L916.1,595.5 A68.4,38 0 0 1 779.3000000000001,595.5 Z" fill="none" stroke="#333" stroke-width="0.9"/><ellipse cx="847.7" cy="572.5" rx="68.4" ry="38" fill="#f5f8fb" stroke="#2e2e2e" stroke-width="1.1"/><ellipse cx="847.7" cy="572.5" rx="66.60000000000001" ry="36.2" fill="#cfe2f4" stroke="#444" stroke-width="0.9"/><ellipse cx="847.7" cy="572.8" rx="63.900000000000006" ry="33.5" fill="#9fc3e8"/><path d="M785.7,576.5 C789.7,542.5 892.7,532.5 909.7,568.5" fill="none" stroke="#ffffff" stroke-width="0.9" opacity="0.85"/><circle cx="844.7" cy="544.0" r="1" fill="#fff"/><circle cx="847.7" cy="544.0" r="1" fill="#fff"/><circle cx="850.7" cy="544.2" r="0.8" fill="#fff"/><g stroke="#3a4658" stroke-width="0.9" stroke-linecap="round" stroke-linejoin="round" fill="none"><polyline points="819.8,564.0 825.4,552.4"/><polyline points="869.9,577.5 874.5,564.1 867.8,566.9"/><polyline points="859.1,580.0 864.0,586.9"/><polyline points="817.1,586.3 827.6,587.0 826.0,593.1"/><polyline points="890.1,573.3 901.1,575.9"/><polyline points="860.3,570.3 868.3,568.9 861.9,563.3"/><polyline points="817.3,566.6 826.7,565.9"/><polyline points="855.6,585.9 870.0,584.1"/><polyline points="831.7,583.4 837.5,591.6"/><polyline points="812.7,580.1 815.0,587.7 820.9,583.6"/><polyline points="808.1,572.8 821.4,574.5"/><polyline points="862.6,580.4 865.6,589.7"/><polyline points="827.4,573.1 834.9,571.9 830.0,568.6"/><polyline points="823.7,573.4 837.3,574.0"/><polyline points="839.1,577.1 840.1,566.2"/><polyline points="870.0,587.4 874.3,574.7 868.9,574.8"/><polyline points="835.0,578.1 837.7,570.2"/><polyline points="878.3,571.7 889.0,570.5"/><polyline points="876.8,587.6 886.8,598.0"/><polyline points="856.6,586.0 862.3,595.5 866.1,587.4"/><polyline points="847.0,566.0 854.0,574.3"/><polyline points="839.0,567.7 842.8,556.7 836.2,556.4"/><polyline points="839.4,586.9 845.1,594.2 850.8,585.9"/><polyline points="868.7,564.4 873.6,554.3"/><polyline points="866.8,592.0 870.0,579.9"/><polyline points="844.0,569.4 847.7,557.6"/><polyline points="818.6,563.4 821.7,569.9 825.2,564.9"/><polyline points="846.5,569.2 850.6,583.5 839.9,585.2"/><polyline points="818.1,576.9 830.4,576.0 828.9,586.3"/><polyline points="868.1,575.5 876.0,575.2"/><polyline points="841.5,577.4 849.8,585.2 849.4,575.3"/><polyline points="810.5,584.4 815.4,590.9"/><polyline points="875.2,572.8 882.1,574.1 877.3,583.2"/><polyline points="824.3,571.3 827.1,560.9"/><polyline points="813.5,588.6 826.4,589.2 824.2,582.6"/><polyline points="871.2,574.4 879.1,574.3"/><polyline points="828.5,578.4 831.3,571.9"/><polyline points="849.0,568.1 863.7,565.6 857.8,557.3"/><polyline points="857.1,576.0 868.9,577.3"/><polyline points="865.8,577.0 868.8,584.5 872.1,579.9"/><polyline points="840.2,569.5 851.8,571.3"/><polyline points="876.2,571.3 880.4,561.4"/><polyline points="809.5,579.2 822.3,575.9"/><polyline points="830.9,566.4 843.3,564.3"/><polyline points="872.6,573.4 880.0,573.5"/><polyline points="844.7,579.7 854.1,581.8"/><polyline points="866.1,579.8 871.8,585.3"/><polyline points="850.5,571.2 856.2,559.9"/><polyline points="851.4,581.3 852.3,572.7"/><polyline points="826.2,561.5 834.2,561.8"/><polyline points="843.5,574.5 854.3,575.5"/><polyline points="857.6,581.9 861.7,590.2"/><polyline points="830.9,573.3 844.5,571.5 839.2,580.2"/><polyline points="824.8,578.4 834.2,576.0"/><polyline points="888.5,580.0 894.2,588.3"/><polyline points="855.9,574.4 861.1,583.0"/><polyline points="867.6,571.9 870.4,564.7"/><polyline points="830.6,575.9 838.8,586.8 840.7,579.8"/><polyline points="842.2,566.2 856.8,567.2"/><polyline points="848.7,581.7 857.0,579.7 850.5,575.3"/><polyline points="845.7,575.2 849.7,586.5"/><polyline points="835.8,576.5 845.7,574.8"/><polyline points="854.9,571.6 863.2,570.7 863.7,581.0"/><polyline points="825.2,589.4 832.2,587.8"/><polyline points="853.2,570.8 855.3,560.3 864.3,562.7"/><polyline points="817.0,568.9 821.0,580.9"/><polyline points="854.0,584.2 864.5,586.8"/><polyline points="852.5,581.6 865.3,582.3 865.0,572.6"/><polyline points="840.1,577.1 843.1,587.8"/><polyline points="852.7,577.6 856.6,563.7 862.0,569.5"/><polyline points="847.1,572.4 850.0,560.7"/><polyline points="859.5,573.5 863.4,581.0 865.7,576.0"/><polyline points="858.7,574.9 870.6,576.3"/><polyline points="831.3,583.7 833.5,575.9 823.6,579.0"/><polyline points="873.7,575.5 886.9,575.4 885.3,569.8"/><polyline points="860.0,579.2 871.7,578.8 869.2,584.8"/><polyline points="834.4,558.4 837.5,551.5"/><polyline points="818.3,587.2 832.7,585.7 830.0,595.2"/><polyline points="841.0,560.1 850.9,561.7 848.5,567.0"/><polyline points="826.3,575.6 839.2,575.9 838.6,581.7"/><polyline points="818.5,591.0 821.3,582.6"/><polyline points="832.9,582.3 846.5,582.9"/><polyline points="868.0,582.4 878.6,583.5"/><polyline points="848.8,570.7 859.2,572.9"/><polyline points="810.6,581.6 814.8,567.5"/><polyline points="877.8,586.6 892.3,583.3 890.3,593.4"/><polyline points="833.7,579.9 845.1,578.1"/><polyline points="845.8,568.1 860.6,566.2"/><polyline points="863.6,564.3 877.1,561.8"/><polyline points="858.7,576.9 872.9,578.5 870.5,571.0"/><polyline points="836.3,574.6 844.1,575.3"/><polyline points="816.5,562.9 828.3,563.9"/><polyline points="818.1,575.4 825.6,586.4"/><polyline points="871.5,570.4 881.6,568.6"/><polyline points="883.1,577.7 890.3,576.9"/><polyline points="866.9,571.8 868.0,557.4 874.8,563.2"/><polyline points="829.7,557.9 833.9,565.4"/><polyline points="858.6,571.0 861.5,561.3 852.0,561.7"/><polyline points="830.9,574.3 837.0,581.8"/><polyline points="871.5,565.7 872.8,558.0 868.0,560.6"/><polyline points="854.1,574.3 866.2,572.4"/><polyline points="823.7,565.3 828.9,572.5"/><polyline points="832.2,571.2 846.0,568.3 844.5,562.8"/><polyline points="818.1,570.3 829.7,568.5"/><polyline points="832.7,560.5 846.3,560.4"/><polyline points="827.8,593.2 830.6,601.6"/><polyline points="859.2,565.9 867.4,564.7 865.7,574.1"/><polyline points="824.6,570.6 832.9,571.7"/><polyline points="818.1,571.5 822.1,562.4"/><polyline points="852.2,583.8 866.9,586.7"/><polyline points="843.4,575.7 847.0,568.5 836.9,572.1"/><polyline points="879.1,582.9 884.2,589.0"/><polyline points="823.8,588.5 825.9,579.4"/><polyline points="833.0,558.8 839.2,566.3"/><polyline points="838.7,575.1 850.9,573.5 844.2,568.6"/><polyline points="833.1,578.1 836.7,569.9"/><polyline points="852.0,578.5 853.7,565.2 845.7,571.5"/><polyline points="859.4,592.4 874.1,592.6"/><polyline points="858.9,565.9 871.9,563.7"/><polyline points="829.5,563.7 836.5,571.4"/><line x1="827.7" y1="598.5" x2="841.7" y2="598.5"/><line x1="844.7" y1="600.0" x2="859.7" y2="600.0"/></g></g><g><polygon points="921.6,514.5 961.4,491.9 1077.8,509.1 1031.5,533.9" fill="#e3e3e3"/><polygon points="1031.5,533.9 1077.8,509.1 1077.8,590.0 1031.5,618.0" fill="#8d8d8d"/><polygon points="1031.5,533.9 1035.3,531.9 1035.3,615.9 1031.5,618.0" fill="#b3b3b3"/><g transform="translate(921.6,514.5) skewY(10.01) scale(0.753,0.778)"><rect x="0" y="0" width="146" height="108" fill="#ffffff"/><rect x="-4" y="0" width="4" height="108" fill="#ffffff"/><rect x="46.5" y="0" width="99.5" height="7" fill="#d3d3d3"/><rect x="142" y="0" width="4" height="108" fill="#f0f0f0"/><line x1="46.5" y1="108" x2="146" y2="108" stroke="#777" stroke-width="0.8"/><rect x="0" y="0" width="46.5" height="108" fill="#4c80d8"/><rect x="0" y="0" width="56.5" height="4.5" fill="#5f8fdf"/><rect x="0" y="0" width="46.5" height="1.5" fill="#7aa3e6"/><line x1="0" y1="108" x2="46.5" y2="108" stroke="#2f5aa0" stroke-width="0.8"/><rect x="10" y="20.5" width="23" height="25" fill="#1a1a1a"/><rect x="8.5" y="19" width="22" height="24" fill="#d9dde0" stroke="#eee" stroke-width="0.8"/><rect x="11" y="22" width="17" height="7" fill="#b8bcc0"/><rect x="13" y="23.5" width="12" height="3" fill="#c08080"/><rect x="11" y="31" width="17" height="6" fill="#c8ccd0"/><rect x="14" y="39" width="6" height="2.5" fill="#e0c060"/><rect x="18" y="60.5" width="13" height="12.3" fill="#1c1c1c"/><rect x="16.8" y="59.2" width="12.5" height="12" fill="#e8e8e8"/><rect x="18.9" y="61.300000000000004" width="8.3" height="7.8" fill="#4c9a3a"/><rect x="18" y="78.6" width="13" height="12.3" fill="#1c1c1c"/><rect x="16.8" y="77.3" width="12.5" height="12" fill="#e8e8e8"/><rect x="18.9" y="79.39999999999999" width="8.3" height="7.8" fill="#d41a1a"/><path d="M51,44 Q51,39.5 55,39.5 L65,40.5 Q67.2,41 67.2,44 L67.2,51 L62,51 L62,86 L55,86 Q51,86 51,82 Z" fill="#173f7a"/><path d="M51,43.5 Q51,39.5 55,39.5 L64,40.5 Q66,41 66,43 L66,48 L59,48 L59,86 L55,86 Q51,86 51,82 Z" fill="#4c80d8"/><rect x="72.6" y="28.6" width="51.3" height="53" rx="8" fill="#858585" stroke="#5a5a5a" stroke-width="1.8"/></g></g></svg><svg width="1080" height="696" style="position:absolute;left:0;top:0"><g font-family="Liberation Serif" font-weight="bold" font-size="20.9" fill="#1f4e79"><text x="30.9" y="194.2">S1:Pretreatment of POM fiber</text><text x="102.4" y="218.8">with nitric acid</text><text x="405.9" y="194.2">S2:Rinse with deionized water</text><text x="490.1" y="219">until pH = 7</text><text x="781.7" y="194.4">S3: 50°C drying for 12 h.</text><text x="11.0" y="455.2">S6:Ultrasonic dispersion for 30 min</text><text x="399.0" y="455">S5:Induced catalytic reactions</text><text x="785.6" y="455">S4:Preparation of surface</text><text x="829.5" y="480">treatment agent</text><text x="55.6" y="665">S7:Constant temperature</text><text x="86.2" y="690">water bath heating</text><text x="455.1" y="664.4">S8:Aging at room</text><text x="441.1" y="689.3">temperature for 12 h</text><text x="770.8" y="665.2">S9:Drying at 50°C for 12 h after</text><text x="832.4" y="688.9">repeated washing.</text><text x="375.1" y="257.2">20 ml of</text><text x="375.1" y="282">ammonia</text><text x="998.5" y="311.6" font-size="24.2">SCA</text><g font-size="23.6"><text transform="translate(832.6,402) rotate(-90)">500ml C<tspan font-size="15" dy="3">2</tspan><tspan dy="-3">H</tspan><tspan font-size="15" dy="3">6</tspan><tspan dy="-3">O</tspan></text><text transform="translate(891.4,398.4) rotate(-90)">40ml TEOS</text><text transform="translate(947.2,393.2) rotate(-90)">1% CTAB</text></g></g></svg></div></body></html>
